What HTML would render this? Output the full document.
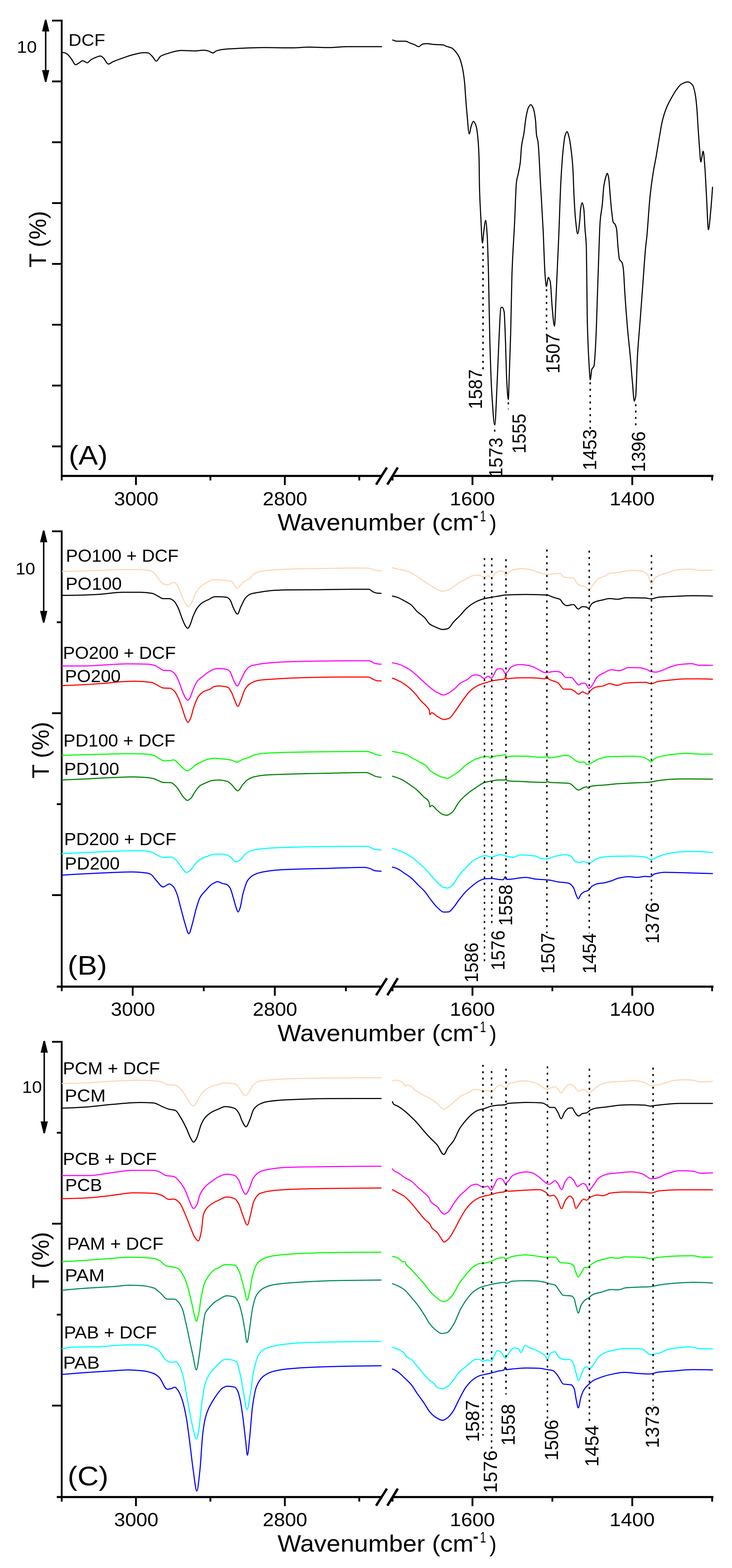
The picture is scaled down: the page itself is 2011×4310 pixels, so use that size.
<!DOCTYPE html><html><head><meta charset="utf-8"><style>html,body{margin:0;padding:0;background:#fff;}svg{display:block;}text{font-family:"Liberation Sans",Arial,sans-serif;}</style></head><body>
<svg width="2011" height="4310" viewBox="0 0 2011 4310">
<rect width="2011" height="4310" fill="#fff"/>
<rect x="167.00" y="54.10" width="5.00" height="1266.60" fill="#000"/>
<rect x="167.00" y="1305.30" width="880.00" height="5.80" fill="#000"/>
<rect x="1077.00" y="1305.30" width="883.00" height="5.80" fill="#000"/>
<line x1="1035" y1="1329.2" x2="1061.2" y2="1287.7" stroke="#000" stroke-width="6.5" stroke-linecap="square"/>
<line x1="1065.8" y1="1329.2" x2="1091.2" y2="1287.7" stroke="#000" stroke-width="6.5" stroke-linecap="square"/>
<rect x="143.00" y="54.10" width="26.50" height="5.00" fill="#000"/>
<rect x="143.00" y="221.30" width="26.50" height="5.00" fill="#000"/>
<rect x="143.00" y="388.50" width="26.50" height="5.00" fill="#000"/>
<rect x="143.00" y="555.70" width="26.50" height="5.00" fill="#000"/>
<rect x="143.00" y="722.90" width="26.50" height="5.00" fill="#000"/>
<rect x="143.00" y="890.10" width="26.50" height="5.00" fill="#000"/>
<rect x="143.00" y="1057.30" width="26.50" height="5.00" fill="#000"/>
<rect x="143.00" y="1224.50" width="26.50" height="5.00" fill="#000"/>
<rect x="371.00" y="1308.20" width="5.00" height="25.00" fill="#000"/>
<rect x="575.50" y="1308.20" width="5.00" height="12.50" fill="#000"/>
<rect x="780.00" y="1308.20" width="5.00" height="25.00" fill="#000"/>
<rect x="984.50" y="1308.20" width="5.00" height="12.50" fill="#000"/>
<rect x="1076.00" y="1308.20" width="5.00" height="12.50" fill="#000"/>
<rect x="1295.50" y="1308.20" width="5.00" height="25.00" fill="#000"/>
<rect x="1515.00" y="1308.20" width="5.00" height="12.50" fill="#000"/>
<rect x="1734.50" y="1308.20" width="5.00" height="25.00" fill="#000"/>
<rect x="1954.00" y="1308.20" width="5.00" height="12.50" fill="#000"/>
<text transform="translate(313.52,1388.50) scale(1.0516,1)" font-size="52" fill="#000">3000</text>
<text transform="translate(721.85,1388.50) scale(1.0575,1)" font-size="52" fill="#000">2800</text>
<text transform="translate(1235.87,1388.50) scale(1.0705,1)" font-size="52" fill="#000">1600</text>
<text transform="translate(1674.87,1388.50) scale(1.0705,1)" font-size="52" fill="#000">1400</text>
<text transform="translate(762.56,1458.10) scale(1.0497,1)" font-size="65.3" fill="#000">Wavenumber (cm</text>
<text transform="translate(1299.60,1435.60) scale(0.7211,1)" font-size="60" fill="#000" stroke="#000" stroke-width="1.1">-</text>
<text transform="translate(1318.76,1433.10) scale(0.6805,1)" font-size="43.3" fill="#000">1</text>
<text transform="translate(1344.65,1458.10) scale(0.9434,1)" font-size="62" fill="#000">)</text>
<text transform="translate(126.00,735.61) rotate(-90) scale(0.9841,1)" font-size="65.3" fill="#000">T (%)</text>
<line x1="125.5" y1="79.1" x2="125.5" y2="200.2" stroke="#000" stroke-width="4"/>
<polygon points="123.5,54.1 127.5,54.1 135.5,86.6 115.5,86.6" fill="#000"/>
<polygon points="123.5,225.2 127.5,225.2 135.5,192.7 115.5,192.7" fill="#000"/>
<text transform="translate(46.14,145.40) scale(1.0750,1)" font-size="46" fill="#000">10</text>
<text transform="translate(188.82,1276.80) scale(1.0709,1)" font-size="75" fill="#000">(A)</text>
<text transform="translate(188.29,125.80) scale(1.0639,1)" font-size="46" fill="#000">DCF</text>
<path d="M171.0,144.0C173.7,144.0 176.3,144.7 179.0,145.5C181.4,146.2 183.8,148.0 186.2,150.0C189.9,153.0 193.7,159.1 197.4,164.0C200.8,168.4 204.1,178.0 207.5,178.0C210.4,178.0 213.3,175.2 216.2,173.6C219.9,171.6 223.7,166.9 227.4,166.9C231.5,166.9 235.6,172.5 239.7,172.5C243.1,172.5 246.5,166.3 249.9,164.2C253.6,161.9 257.4,160.0 261.1,158.6C266.1,156.7 271.1,154.1 276.1,154.1C278.6,154.1 281.0,156.7 283.5,158.6C288.3,162.3 293.0,176.2 297.8,176.2C301.8,176.2 305.8,171.7 309.8,169.9C319.8,165.4 329.7,162.0 339.7,158.6C349.7,155.2 359.7,151.5 369.7,149.3C378.4,147.4 387.2,144.8 395.9,144.8C399.6,144.8 403.4,145.1 407.1,145.5C410.8,145.9 414.6,151.3 418.3,154.9C422.1,158.6 425.8,168.0 429.6,168.0C433.3,168.0 437.1,157.2 440.8,154.9C447.0,151.0 453.3,149.3 459.5,147.4C472.0,143.6 484.5,138.8 497.0,138.8C509.5,138.8 521.9,139.9 534.4,139.9C543.1,139.9 551.9,138.0 560.6,138.0C564.3,138.0 568.1,139.0 571.8,139.9C576.2,141.0 580.6,145.5 585.0,145.5C588.1,145.5 591.2,141.0 594.3,139.9C599.3,138.1 604.3,136.8 609.3,136.2C620.1,134.8 630.8,134.2 641.6,133.7C669.3,132.3 697.1,130.8 724.8,130.8C751.1,130.8 777.5,131.6 803.8,131.6C819.1,131.6 834.3,129.5 849.6,129.5C867.6,129.5 885.7,130.8 903.7,130.8C920.3,130.8 937.0,128.3 953.6,128.3C985.2,128.3 1016.8,128.3 1048.4,128.3" fill="none" stroke="#000" stroke-width="3.0" stroke-linejoin="round" stroke-linecap="round"/>
<path d="M1079.0,110.0C1082.7,111.5 1086.3,113.3 1090.0,113.3C1097.7,113.3 1105.5,113.3 1113.2,113.3C1117.7,113.3 1122.1,116.6 1126.6,118.3C1131.0,120.0 1135.5,121.4 1139.9,123.3C1143.2,124.7 1146.6,128.3 1149.9,128.3C1153.8,128.3 1157.6,121.6 1161.5,121.0C1165.4,120.4 1169.2,120.0 1173.1,120.0C1179.8,120.0 1186.4,121.9 1193.1,122.3C1200.9,122.8 1208.6,122.6 1216.4,123.3C1219.7,123.6 1223.1,126.1 1226.4,127.3C1231.4,129.1 1236.4,129.7 1241.4,132.2C1244.7,133.9 1248.0,137.8 1251.3,141.6C1254.6,145.5 1258.0,149.7 1261.3,156.5C1264.1,162.2 1266.9,171.1 1269.7,183.2C1271.9,192.7 1274.1,205.9 1276.3,226.4C1277.4,236.7 1278.5,258.9 1279.6,273.0C1280.7,287.6 1281.9,301.2 1283.0,313.0C1285.0,333.8 1287.0,367.9 1289.0,367.9C1290.9,367.9 1292.7,351.3 1294.6,346.2C1296.6,340.7 1298.6,333.6 1300.6,333.6C1303.0,333.6 1305.5,339.3 1307.9,346.2C1309.6,350.9 1311.2,362.7 1312.9,379.5C1314.0,390.6 1315.1,403.0 1316.2,439.4C1316.5,449.3 1316.8,494.9 1317.1,507.0C1318.3,555.5 1319.5,569.7 1320.7,592.9C1322.3,623.1 1323.8,667.9 1325.4,667.9C1326.8,667.9 1328.2,641.6 1329.6,632.0C1331.2,621.3 1332.7,605.4 1334.3,605.4C1335.7,605.4 1337.2,627.4 1338.6,650.0C1339.8,668.4 1340.9,712.9 1342.1,757.0C1343.3,802.4 1344.5,893.0 1345.7,935.7C1347.5,998.6 1349.2,1050.5 1351.0,1078.6C1353.8,1122.5 1356.5,1167.9 1359.3,1167.9C1361.3,1167.9 1363.4,1101.8 1365.4,1060.7C1367.2,1025.0 1368.9,970.4 1370.7,935.7C1372.5,901.0 1374.2,848.0 1376.0,846.4C1377.2,845.3 1378.4,844.6 1379.6,844.6C1381.4,844.6 1383.2,849.1 1385.0,857.0C1386.2,862.3 1387.4,904.7 1388.6,935.7C1389.7,965.0 1390.9,1022.2 1392.0,1042.9C1393.5,1069.8 1394.9,1098.2 1396.4,1098.2C1397.4,1098.2 1398.3,1051.3 1399.3,1025.0C1400.5,992.3 1401.7,961.3 1402.9,917.9C1404.1,875.7 1405.2,790.9 1406.4,757.0C1408.8,687.3 1411.2,664.0 1413.6,614.3C1415.4,577.7 1417.1,513.2 1418.9,500.0C1420.4,488.8 1421.9,486.8 1423.4,479.3C1425.4,469.3 1427.4,462.2 1429.4,446.0C1430.5,437.1 1431.6,411.7 1432.7,402.8C1434.9,384.7 1437.2,380.6 1439.4,366.2C1441.3,354.2 1443.1,333.1 1445.0,322.9C1447.1,311.6 1449.1,301.0 1451.2,296.8C1453.5,292.2 1455.7,287.8 1458.0,287.8C1460.2,287.8 1462.5,292.0 1464.7,296.8C1466.9,301.6 1469.2,313.3 1471.4,332.7C1472.2,339.4 1472.9,362.6 1473.7,368.7C1475.2,380.7 1476.7,380.0 1478.2,391.1C1480.5,407.9 1482.7,467.7 1485.0,507.0C1487.4,548.0 1489.7,584.4 1492.1,632.0C1493.9,668.2 1495.7,735.3 1497.5,757.0C1498.7,771.4 1499.9,787.5 1501.1,787.5C1502.9,787.5 1504.6,762.5 1506.4,762.5C1508.2,762.5 1510.0,767.9 1511.8,775.0C1513.6,782.0 1515.3,828.3 1517.1,846.4C1519.1,867.2 1521.2,896.4 1523.2,896.4C1524.8,896.4 1526.3,842.1 1527.9,810.7C1530.3,763.2 1532.6,706.8 1535.0,650.0C1537.0,601.2 1539.1,530.4 1541.1,494.5C1543.3,455.0 1545.6,424.7 1547.8,404.6C1549.3,391.1 1550.8,378.1 1552.3,373.2C1554.1,367.3 1555.9,361.9 1557.7,361.9C1559.6,361.9 1561.6,370.3 1563.5,377.7C1565.8,386.3 1568.0,403.2 1570.3,422.6C1571.5,432.8 1572.7,444.3 1573.9,463.0C1574.9,479.1 1576.0,519.9 1577.0,539.4C1578.5,567.8 1580.0,592.8 1581.5,606.8C1583.3,623.6 1585.1,642.7 1586.9,642.7C1588.8,642.7 1590.8,624.2 1592.7,606.8C1593.5,599.9 1594.2,580.3 1595.0,575.3C1596.5,565.5 1598.0,557.4 1599.5,557.4C1601.0,557.4 1602.5,565.3 1604.0,575.3C1605.1,582.4 1606.1,613.0 1607.2,629.2C1608.4,647.9 1609.7,647.7 1610.9,680.0C1611.3,691.4 1611.8,744.9 1612.2,779.4C1612.6,811.2 1613.0,860.2 1613.4,878.8C1614.2,917.5 1615.1,933.4 1615.9,953.3C1616.7,973.2 1617.6,989.9 1618.4,1003.0C1619.5,1019.8 1620.5,1044.0 1621.6,1044.0C1623.0,1044.0 1624.4,1019.2 1625.8,1015.4C1627.9,1009.8 1629.9,1011.9 1632.0,1005.5C1632.8,1002.9 1633.7,989.5 1634.5,978.0C1635.8,960.5 1637.0,934.6 1638.3,903.6C1639.1,884.0 1639.9,853.3 1640.7,829.0C1641.5,803.6 1642.4,777.8 1643.2,754.5C1645.1,701.3 1647.0,629.5 1648.9,606.8C1650.8,583.7 1652.8,580.4 1654.7,561.9C1656.1,548.8 1657.4,521.8 1658.8,512.4C1660.7,499.1 1662.7,491.6 1664.6,485.5C1665.8,481.7 1667.0,476.5 1668.2,476.5C1669.6,476.5 1670.9,482.9 1672.3,490.0C1673.5,496.1 1674.6,517.3 1675.8,530.4C1677.3,547.3 1678.8,567.0 1680.3,579.8C1681.8,592.6 1683.3,608.7 1684.8,611.3C1686.3,613.9 1687.8,613.6 1689.3,615.8C1690.8,618.0 1692.3,621.9 1693.8,629.2C1695.2,635.8 1696.5,666.0 1697.9,680.0C1699.1,692.6 1700.4,709.2 1701.6,712.3C1704.1,718.6 1706.6,716.5 1709.1,722.2C1710.3,725.0 1711.6,732.1 1712.8,742.1C1714.0,752.1 1715.3,785.7 1716.5,804.2C1719.0,841.7 1721.5,875.0 1724.0,903.6C1726.5,931.8 1728.9,951.0 1731.4,978.1C1733.5,1000.8 1735.5,1030.3 1737.6,1052.7C1739.3,1070.8 1740.9,1102.4 1742.6,1102.4C1743.8,1102.4 1745.1,1096.9 1746.3,1090.0C1748.0,1080.6 1749.6,1006.3 1751.3,978.1C1753.8,935.8 1756.3,912.1 1758.8,878.8C1761.3,845.9 1763.7,812.3 1766.2,779.4C1768.7,746.0 1771.2,705.8 1773.7,680.0C1774.8,669.0 1775.8,662.5 1776.9,651.7C1779.9,621.5 1782.9,567.5 1785.9,539.4C1788.9,511.3 1791.9,490.6 1794.9,472.0C1797.1,458.1 1799.4,448.6 1801.6,436.0C1805.4,414.8 1809.1,389.9 1812.9,368.7C1815.1,356.1 1817.4,341.9 1819.6,332.7C1823.3,317.4 1827.1,306.1 1830.8,296.8C1835.3,285.6 1839.8,278.0 1844.3,269.8C1848.8,261.6 1853.3,253.6 1857.8,247.4C1862.3,241.2 1866.8,234.3 1871.3,231.7C1877.3,228.2 1883.2,224.9 1889.2,224.9C1893.7,224.9 1898.2,228.5 1902.7,233.9C1905.0,236.6 1907.2,245.5 1909.5,256.4C1911.0,263.6 1912.5,276.5 1914.0,292.3C1915.5,307.7 1916.9,338.3 1918.4,359.7C1919.5,375.3 1920.5,391.3 1921.6,404.6C1922.8,419.6 1924.0,445.0 1925.2,445.0C1927.4,445.0 1929.7,415.8 1931.9,415.8C1933.4,415.8 1934.9,439.9 1936.4,458.5C1937.9,477.1 1939.4,513.1 1940.9,539.4C1942.7,570.9 1944.5,631.5 1946.3,631.5C1948.2,631.5 1950.2,603.6 1952.1,584.3C1953.9,566.3 1955.7,542.0 1957.5,514.7" fill="none" stroke="#000" stroke-width="3.0" stroke-linejoin="round" stroke-linecap="round"/>
<line x1="1327.00" y1="677.00" x2="1327.00" y2="1018.00" stroke="#000" stroke-width="4" stroke-dasharray="5.6 11.9"/>
<line x1="1359.00" y1="1181.00" x2="1359.00" y2="1190.00" stroke="#000" stroke-width="4" stroke-dasharray="5.6 11.9"/>
<line x1="1396.50" y1="1106.00" x2="1396.50" y2="1125.00" stroke="#000" stroke-width="4" stroke-dasharray="5.6 11.9"/>
<line x1="1501.50" y1="795.00" x2="1501.50" y2="922.00" stroke="#000" stroke-width="4" stroke-dasharray="5.6 11.9"/>
<line x1="1621.50" y1="1051.00" x2="1621.50" y2="1180.00" stroke="#000" stroke-width="4" stroke-dasharray="5.6 11.9"/>
<line x1="1746.50" y1="1111.00" x2="1746.50" y2="1180.00" stroke="#000" stroke-width="4" stroke-dasharray="5.6 11.9"/>
<text transform="translate(1324.00,1124.75) rotate(-90) scale(0.9487,1)" font-size="52" fill="#000">1587</text>
<text transform="translate(1379.60,1312.76) rotate(-90) scale(0.9506,1)" font-size="52" fill="#000">1573</text>
<text transform="translate(1444.00,1246.75) rotate(-90) scale(0.9497,1)" font-size="52" fill="#000">1555</text>
<text transform="translate(1537.00,1026.75) rotate(-90) scale(0.9478,1)" font-size="52" fill="#000">1507</text>
<text transform="translate(1638.30,1292.55) rotate(-90) scale(0.9752,1)" font-size="52" fill="#000">1453</text>
<text transform="translate(1772.40,1297.52) rotate(-90) scale(0.9661,1)" font-size="52" fill="#000">1396</text>
<rect x="167.00" y="1457.90" width="5.00" height="1266.60" fill="#000"/>
<rect x="156.00" y="2709.10" width="891.00" height="5.80" fill="#000"/>
<rect x="1077.00" y="2709.10" width="883.00" height="5.80" fill="#000"/>
<line x1="1035" y1="2733.0" x2="1061.2" y2="2691.5" stroke="#000" stroke-width="6.5" stroke-linecap="square"/>
<line x1="1065.8" y1="2733.0" x2="1091.2" y2="2691.5" stroke="#000" stroke-width="6.5" stroke-linecap="square"/>
<rect x="143.00" y="1457.90" width="26.50" height="5.00" fill="#000"/>
<rect x="156.00" y="1707.90" width="13.50" height="5.00" fill="#000"/>
<rect x="143.00" y="1957.90" width="26.50" height="5.00" fill="#000"/>
<rect x="156.00" y="2207.90" width="13.50" height="5.00" fill="#000"/>
<rect x="143.00" y="2457.90" width="26.50" height="5.00" fill="#000"/>
<rect x="362.00" y="2712.00" width="5.00" height="25.00" fill="#000"/>
<rect x="557.25" y="2712.00" width="5.00" height="12.50" fill="#000"/>
<rect x="752.50" y="2712.00" width="5.00" height="25.00" fill="#000"/>
<rect x="947.75" y="2712.00" width="5.00" height="12.50" fill="#000"/>
<rect x="1076.00" y="2712.00" width="5.00" height="12.50" fill="#000"/>
<rect x="1295.50" y="2712.00" width="5.00" height="25.00" fill="#000"/>
<rect x="1515.00" y="2712.00" width="5.00" height="12.50" fill="#000"/>
<rect x="1734.50" y="2712.00" width="5.00" height="25.00" fill="#000"/>
<rect x="1954.00" y="2712.00" width="5.00" height="12.50" fill="#000"/>
<text transform="translate(304.52,2792.30) scale(1.0516,1)" font-size="52" fill="#000">3000</text>
<text transform="translate(694.35,2792.30) scale(1.0575,1)" font-size="52" fill="#000">2800</text>
<text transform="translate(1235.87,2792.30) scale(1.0705,1)" font-size="52" fill="#000">1600</text>
<text transform="translate(1674.87,2792.30) scale(1.0705,1)" font-size="52" fill="#000">1400</text>
<text transform="translate(762.56,2861.90) scale(1.0497,1)" font-size="65.3" fill="#000">Wavenumber (cm</text>
<text transform="translate(1299.60,2839.40) scale(0.7211,1)" font-size="60" fill="#000" stroke="#000" stroke-width="1.1">-</text>
<text transform="translate(1318.76,2836.90) scale(0.6805,1)" font-size="43.3" fill="#000">1</text>
<text transform="translate(1344.65,2861.90) scale(0.9434,1)" font-size="62" fill="#000">)</text>
<text transform="translate(134.00,2139.91) rotate(-90) scale(0.9841,1)" font-size="65.3" fill="#000">T (%)</text>
<line x1="120" y1="1482.9" x2="120" y2="1686.8000000000002" stroke="#000" stroke-width="4"/>
<polygon points="118,1457.9 122,1457.9 130,1490.4 110,1490.4" fill="#000"/>
<polygon points="118,1711.8000000000002 122,1711.8000000000002 130,1679.3000000000002 110,1679.3000000000002" fill="#000"/>
<text transform="translate(42.93,1579.00) scale(1.0510,1)" font-size="46" fill="#000">10</text>
<text transform="translate(185.66,2678.50) scale(1.0841,1)" font-size="75" fill="#000">(B)</text>
<text transform="translate(180.98,1544.00) scale(1.0332,1)" font-size="47.5" fill="#000">PO100 + DCF</text>
<text transform="translate(180.23,1620.60) scale(1.0449,1)" font-size="47.5" fill="#000">PO100</text>
<text transform="translate(172.97,1810.90) scale(1.0349,1)" font-size="47.5" fill="#000">PO200 + DCF</text>
<text transform="translate(178.57,1875.40) scale(1.0350,1)" font-size="47.5" fill="#000">PO200</text>
<text transform="translate(174.37,2052.30) scale(1.0346,1)" font-size="47.5" fill="#000">PD100 + DCF</text>
<text transform="translate(176.35,2130.10) scale(1.0404,1)" font-size="47.5" fill="#000">PD100</text>
<text transform="translate(176.36,2322.80) scale(1.0374,1)" font-size="47.5" fill="#000">PD200 + DCF</text>
<text transform="translate(178.06,2390.10) scale(1.0383,1)" font-size="47.5" fill="#000">PD200</text>
<path d="M171.2,1570.7C192.4,1570.3 213.7,1569.8 234.9,1569.2C247.4,1568.9 259.8,1568.5 272.3,1568.1C291.0,1567.4 309.8,1565.5 328.5,1565.5C347.2,1565.5 365.9,1565.5 384.6,1565.5C394.6,1565.5 404.6,1566.8 414.6,1569.2C418.3,1570.1 422.1,1573.9 425.8,1577.4C429.5,1580.9 433.3,1588.0 437.0,1592.4C440.8,1596.9 444.5,1602.7 448.3,1604.4C452.7,1606.4 457.0,1608.1 461.4,1608.1C464.5,1608.1 467.6,1603.9 470.7,1602.9C473.5,1602.0 476.2,1601.0 479.0,1601.0C481.9,1601.0 484.7,1605.4 487.6,1609.3C490.7,1613.6 493.9,1624.6 497.0,1631.7C500.7,1640.2 504.5,1650.4 508.2,1656.1C511.3,1660.9 514.4,1667.3 517.5,1667.3C520.6,1667.3 523.8,1661.2 526.9,1656.1C529.4,1652.0 531.9,1642.4 534.4,1637.3C538.1,1629.7 541.9,1622.8 545.6,1618.6C551.8,1611.6 558.1,1607.4 564.3,1603.6C570.6,1599.8 576.8,1594.8 583.1,1594.3C588.7,1593.8 594.4,1593.5 600.0,1593.5C606.2,1593.5 612.5,1594.6 618.7,1595.4C624.3,1596.1 630.0,1596.3 635.6,1598.0C638.1,1598.8 640.6,1604.5 643.1,1607.4C646.0,1610.7 648.8,1616.7 651.7,1616.7C654.4,1616.7 657.2,1611.9 659.9,1609.3C663.6,1605.8 667.4,1600.5 671.1,1598.0C676.1,1594.6 681.1,1594.1 686.1,1590.5C689.8,1587.8 693.6,1579.6 697.3,1577.4C702.3,1574.5 707.3,1573.0 712.3,1571.8C718.5,1570.3 724.8,1569.2 731.0,1568.5C743.5,1567.1 756.0,1566.1 768.5,1565.5C787.2,1564.6 805.9,1564.0 824.6,1563.6C849.6,1563.1 874.5,1562.9 899.5,1562.5C924.5,1562.1 949.4,1561.3 974.4,1561.3C986.9,1561.3 999.3,1561.4 1011.8,1561.7C1015.6,1561.8 1019.3,1564.0 1023.1,1565.1C1026.8,1566.2 1030.6,1567.4 1034.3,1568.1C1038.5,1568.9 1042.8,1569.6 1047.0,1570.0" fill="none" stroke="#FDD6B8" stroke-width="3.0" stroke-linejoin="round" stroke-linecap="round"/>
<path d="M171.2,1636.6C192.4,1636.6 213.7,1636.1 234.9,1635.5C247.4,1635.2 259.8,1634.4 272.3,1633.6C293.5,1632.3 314.8,1628.0 336.0,1628.0C352.2,1628.0 368.4,1628.0 384.6,1628.0C395.8,1628.0 407.1,1629.2 418.3,1631.0C423.3,1631.8 428.3,1635.7 433.3,1638.1C438.3,1640.5 443.3,1645.6 448.3,1645.6C453.9,1645.6 459.5,1645.6 465.1,1645.6C469.5,1645.6 473.8,1648.8 478.2,1652.3C482.0,1655.3 485.7,1663.3 489.5,1671.0C493.2,1678.6 497.0,1692.0 500.7,1701.0C503.8,1708.5 507.0,1717.4 510.1,1721.6C512.0,1724.1 513.8,1727.2 515.7,1727.2C517.6,1727.2 519.4,1723.0 521.3,1719.7C524.4,1714.2 527.6,1700.9 530.7,1693.5C534.4,1684.7 538.2,1676.0 541.9,1671.0C546.9,1664.2 551.9,1659.4 556.9,1656.1C561.9,1652.8 566.8,1650.9 571.8,1648.6C578.1,1645.6 584.3,1640.3 590.6,1640.3C593.7,1640.3 596.9,1640.3 600.0,1640.3C607.5,1640.3 615.0,1640.8 622.5,1641.8C625.6,1642.2 628.7,1645.1 631.8,1648.6C634.9,1652.1 638.1,1665.2 641.2,1671.0C644.9,1677.9 648.7,1687.9 652.4,1687.9C655.5,1687.9 658.7,1673.6 661.8,1667.3C666.2,1658.5 670.5,1647.8 674.9,1643.0C679.3,1638.2 683.6,1634.3 688.0,1632.8C696.1,1630.1 704.2,1629.3 712.3,1628.0C724.8,1626.0 737.3,1623.9 749.8,1623.1C762.3,1622.3 774.7,1621.8 787.2,1621.6C812.2,1621.2 837.1,1621.1 862.1,1620.9C899.5,1620.5 937.0,1619.7 974.4,1619.7C987.5,1619.7 1000.6,1619.7 1013.7,1619.7C1017.4,1619.7 1021.2,1625.4 1024.9,1626.9C1029.3,1628.6 1033.6,1630.3 1038.0,1630.6C1041.0,1630.8 1044.0,1631.0 1047.0,1631.0" fill="none" stroke="#000000" stroke-width="3.0" stroke-linejoin="round" stroke-linecap="round"/>
<path d="M170.5,1830.4C192.0,1830.4 213.4,1830.4 234.9,1830.4C253.6,1830.4 272.3,1828.3 291.0,1827.4C309.7,1826.5 328.5,1824.8 347.2,1824.8C365.9,1824.8 384.7,1825.0 403.4,1825.6C409.6,1825.8 415.9,1826.8 422.1,1828.2C427.1,1829.3 432.0,1833.0 437.0,1835.7C440.8,1837.8 444.5,1842.1 448.3,1842.4C454.5,1842.9 460.8,1842.7 467.0,1843.2C470.7,1843.5 474.5,1846.6 478.2,1849.9C482.0,1853.2 485.7,1860.9 489.5,1868.6C493.2,1876.2 497.0,1889.6 500.7,1898.6C503.8,1906.1 507.0,1915.0 510.1,1919.2C512.0,1921.7 513.8,1924.8 515.7,1924.8C517.6,1924.8 519.4,1921.8 521.3,1919.2C524.4,1914.8 527.6,1901.9 530.7,1894.8C534.4,1886.3 538.2,1877.0 541.9,1872.4C546.9,1866.2 551.9,1863.4 556.9,1859.3C561.9,1855.3 566.8,1851.0 571.8,1848.0C578.1,1844.2 584.3,1839.9 590.6,1838.7C593.7,1838.1 596.9,1837.5 600.0,1837.5C607.5,1837.5 615.0,1838.3 622.5,1839.8C625.6,1840.4 628.7,1842.9 631.8,1846.2C634.9,1849.5 638.1,1862.6 641.2,1868.6C644.7,1875.3 648.2,1885.5 651.7,1885.5C655.1,1885.5 658.4,1874.7 661.8,1868.6C665.5,1861.8 669.3,1851.5 673.0,1846.2C677.4,1840.0 681.7,1833.9 686.1,1831.9C692.3,1829.0 698.6,1827.9 704.8,1826.7C713.5,1825.0 722.3,1823.7 731.0,1822.9C749.7,1821.1 768.5,1819.9 787.2,1819.2C812.2,1818.3 837.1,1817.7 862.1,1817.3C899.5,1816.8 937.0,1816.2 974.4,1816.2C987.5,1816.2 1000.6,1816.2 1013.7,1816.2C1019.3,1816.2 1024.9,1822.7 1030.5,1823.7C1036.0,1824.7 1041.5,1825.6 1047.0,1825.6" fill="none" stroke="#FF00FF" stroke-width="3.0" stroke-linejoin="round" stroke-linecap="round"/>
<path d="M170.5,1884.7C192.0,1883.9 213.4,1882.9 234.9,1881.7C253.6,1880.7 272.3,1879.5 291.0,1878.0C303.5,1877.0 316.0,1875.0 328.5,1874.2C342.2,1873.4 356.0,1872.4 369.7,1872.4C384.7,1872.4 399.6,1873.4 414.6,1875.4C419.6,1876.1 424.6,1879.4 429.6,1881.7C435.8,1884.5 442.1,1890.7 448.3,1891.1C454.5,1891.5 460.8,1891.3 467.0,1891.8C470.7,1892.1 474.5,1895.3 478.2,1898.6C482.0,1901.9 485.7,1909.6 489.5,1917.3C493.2,1924.9 497.0,1936.7 500.7,1947.2C503.8,1956.1 507.0,1968.9 510.1,1975.3C512.2,1979.6 514.3,1985.4 516.4,1985.4C518.7,1985.4 520.9,1979.9 523.2,1975.3C526.3,1969.0 529.4,1952.1 532.5,1943.5C536.9,1931.4 541.2,1919.1 545.6,1913.5C550.6,1907.1 555.6,1903.0 560.6,1900.4C565.6,1897.8 570.6,1897.0 575.6,1894.8C580.6,1892.6 585.6,1887.5 590.6,1886.6C593.7,1886.0 596.9,1885.5 600.0,1885.5C608.7,1885.5 617.5,1886.6 626.2,1889.2C629.3,1890.1 632.5,1896.8 635.6,1902.3C638.7,1907.8 641.8,1918.1 644.9,1924.8C647.8,1931.0 650.6,1941.6 653.5,1941.6C656.3,1941.6 659.0,1931.1 661.8,1924.8C665.5,1916.3 669.3,1900.8 673.0,1894.8C677.4,1887.8 681.7,1882.6 686.1,1879.9C694.8,1874.5 703.6,1870.9 712.3,1869.7C724.8,1868.0 737.3,1867.5 749.8,1866.7C774.7,1865.1 799.7,1863.6 824.6,1863.0C862.1,1862.0 899.5,1861.1 937.0,1861.1C961.9,1861.1 986.9,1861.1 1011.8,1861.1C1016.8,1861.1 1021.8,1866.0 1026.8,1867.9C1030.5,1869.3 1034.3,1871.6 1038.0,1871.6C1041.0,1871.6 1044.0,1871.6 1047.0,1871.6" fill="none" stroke="#FF0000" stroke-width="3.0" stroke-linejoin="round" stroke-linecap="round"/>
<path d="M170.5,2076.3C192.0,2075.6 213.4,2075.0 234.9,2074.4C253.6,2073.9 272.3,2073.3 291.0,2072.9C309.7,2072.5 328.5,2071.8 347.2,2071.8C365.9,2071.8 384.7,2072.1 403.4,2072.9C409.6,2073.2 415.9,2074.5 422.1,2076.3C427.1,2077.7 432.0,2082.3 437.0,2084.9C441.4,2087.2 445.8,2091.3 450.2,2091.3C455.8,2091.3 461.4,2090.9 467.0,2090.5C470.5,2090.2 474.0,2088.7 477.5,2088.7C481.5,2088.7 485.5,2094.5 489.5,2098.0C493.2,2101.3 497.0,2106.2 500.7,2109.3C505.1,2113.0 509.4,2118.6 513.8,2118.6C517.5,2118.6 521.3,2115.3 525.0,2113.0C529.4,2110.3 533.7,2104.6 538.1,2101.8C543.1,2098.6 548.1,2096.5 553.1,2094.3C559.3,2091.5 565.6,2088.1 571.8,2086.8C578.1,2085.5 584.3,2084.2 590.6,2084.2C593.7,2084.2 596.9,2084.6 600.0,2084.9C606.2,2085.4 612.5,2086.0 618.7,2086.8C624.3,2087.5 630.0,2088.2 635.6,2089.4C640.6,2090.5 645.5,2095.0 650.5,2095.0C655.5,2095.0 660.5,2089.9 665.5,2087.9C671.1,2085.7 676.8,2084.5 682.4,2082.3C687.4,2080.4 692.3,2077.0 697.3,2075.6C706.0,2073.2 714.8,2071.3 723.5,2070.7C744.7,2069.1 766.0,2068.6 787.2,2068.1C824.6,2067.2 862.1,2066.5 899.5,2066.2C935.7,2065.9 971.9,2065.5 1008.1,2065.5C1013.1,2065.5 1018.1,2068.3 1023.1,2070.0C1026.8,2071.3 1030.6,2073.6 1034.3,2074.4C1038.5,2075.3 1042.8,2076.2 1047.0,2076.3" fill="none" stroke="#00FF00" stroke-width="3.0" stroke-linejoin="round" stroke-linecap="round"/>
<path d="M170.5,2144.1C192.0,2143.1 213.4,2142.1 234.9,2141.1C259.9,2139.9 284.8,2138.3 309.8,2137.3C328.5,2136.6 347.2,2135.5 365.9,2135.5C378.4,2135.5 390.9,2136.3 403.4,2137.3C409.6,2137.8 415.9,2138.8 422.1,2140.3C427.1,2141.5 432.0,2144.8 437.0,2146.7C440.8,2148.2 444.5,2150.6 448.3,2150.8C455.2,2151.1 462.0,2150.9 468.9,2151.2C473.3,2151.4 477.6,2155.9 482.0,2159.8C485.7,2163.1 489.5,2169.5 493.2,2174.8C496.9,2180.1 500.7,2187.7 504.4,2191.6C507.9,2195.3 511.4,2200.2 514.9,2200.2C518.3,2200.2 521.6,2196.7 525.0,2193.5C528.1,2190.5 531.3,2182.9 534.4,2178.5C539.4,2171.4 544.4,2163.4 549.4,2159.8C554.4,2156.2 559.3,2154.4 564.3,2152.3C570.6,2149.7 576.8,2146.5 583.1,2145.6C588.7,2144.8 594.4,2144.1 600.0,2144.1C608.7,2144.1 617.5,2145.9 626.2,2148.6C629.9,2149.8 633.7,2154.5 637.4,2157.9C642.7,2162.7 647.9,2173.7 653.2,2173.7C657.9,2173.7 662.7,2161.3 667.4,2156.1C671.8,2151.3 676.1,2145.7 680.5,2143.0C686.1,2139.5 691.7,2136.9 697.3,2135.5C706.0,2133.3 714.8,2131.7 723.5,2131.0C744.7,2129.3 766.0,2128.7 787.2,2128.0C824.6,2126.8 862.1,2126.2 899.5,2125.4C935.1,2124.7 970.6,2123.5 1006.2,2123.5C1010.6,2123.5 1014.9,2126.2 1019.3,2128.0C1023.0,2129.5 1026.8,2132.6 1030.5,2133.6C1036.0,2135.1 1041.5,2136.6 1047.0,2136.6" fill="none" stroke="#008000" stroke-width="3.0" stroke-linejoin="round" stroke-linecap="round"/>
<path d="M170.5,2346.6C192.0,2345.6 213.4,2344.6 234.9,2343.6C259.9,2342.4 284.8,2340.7 309.8,2339.9C334.7,2339.1 359.7,2338.0 384.6,2338.0C394.6,2338.0 404.6,2339.6 414.6,2341.8C419.6,2342.9 424.6,2347.1 429.6,2349.3C435.8,2352.1 442.1,2356.8 448.3,2356.8C455.8,2356.8 463.2,2356.0 470.7,2356.0C474.5,2356.0 478.2,2359.5 482.0,2362.4C487.0,2366.2 492.0,2375.2 497.0,2381.1C502.0,2387.0 506.9,2397.9 511.9,2397.9C515.7,2397.9 519.4,2395.0 523.2,2392.3C526.9,2389.6 530.7,2381.6 534.4,2377.3C539.4,2371.6 544.4,2365.4 549.4,2362.4C556.9,2357.9 564.3,2355.4 571.8,2353.0C578.1,2351.0 584.3,2348.7 590.6,2348.1C593.7,2347.8 596.9,2347.5 600.0,2347.5C607.5,2347.5 615.0,2348.4 622.5,2349.8C626.2,2350.5 630.0,2353.6 633.7,2356.2C638.7,2359.6 643.7,2369.3 648.7,2369.3C652.4,2369.3 656.2,2366.2 659.9,2363.6C664.9,2360.2 669.9,2350.3 674.9,2346.8C681.1,2342.4 687.4,2339.0 693.6,2337.4C702.3,2335.1 711.1,2333.7 719.8,2332.9C742.3,2330.9 764.7,2329.9 787.2,2329.2C824.6,2328.1 862.1,2327.4 899.5,2327.0C935.7,2326.6 971.9,2326.2 1008.1,2326.2C1014.3,2326.2 1020.6,2332.3 1026.8,2333.7C1033.5,2335.2 1040.3,2336.6 1047.0,2336.7" fill="none" stroke="#00FFFF" stroke-width="3.0" stroke-linejoin="round" stroke-linecap="round"/>
<path d="M170.5,2405.4C192.0,2404.0 213.4,2402.8 234.9,2401.7C259.9,2400.4 284.8,2399.2 309.8,2398.3C327.3,2397.7 344.7,2396.8 362.2,2396.8C375.9,2396.8 389.7,2397.9 403.4,2399.8C407.1,2400.3 410.9,2401.6 414.6,2403.5C419.6,2406.0 424.6,2415.3 429.6,2420.4C435.8,2426.8 442.1,2438.0 448.3,2438.0C453.9,2438.0 459.5,2429.8 465.1,2429.8C468.9,2429.8 472.6,2433.4 476.4,2437.2C479.5,2440.3 482.6,2448.0 485.7,2456.0C489.5,2465.7 493.2,2483.3 497.0,2497.1C500.7,2510.8 504.5,2526.8 508.2,2538.3C511.7,2549.1 515.2,2566.4 518.7,2566.4C522.1,2566.4 525.4,2549.4 528.8,2538.3C531.9,2528.1 535.0,2511.6 538.1,2500.9C541.9,2487.9 545.6,2474.0 549.4,2467.2C554.4,2458.3 559.3,2454.0 564.3,2448.5C570.6,2441.5 576.8,2433.5 583.1,2429.8C588.1,2426.9 593.0,2423.4 598.0,2423.4C602.4,2423.4 606.8,2427.1 611.2,2428.4C615.0,2429.5 618.7,2429.6 622.5,2431.0C625.6,2432.2 628.7,2435.7 631.8,2440.4C634.9,2445.1 638.1,2458.4 641.2,2468.5C643.7,2476.6 646.2,2488.1 648.7,2494.7C650.6,2499.6 652.4,2506.7 654.3,2506.7C656.2,2506.7 658.0,2500.2 659.9,2494.7C662.4,2487.3 664.9,2466.5 667.4,2457.2C671.8,2440.9 676.1,2425.9 680.5,2419.8C686.1,2412.0 691.7,2407.5 697.3,2404.8C706.0,2400.6 714.8,2398.2 723.5,2396.6C738.5,2393.8 753.5,2391.9 768.5,2391.0C787.2,2389.8 805.9,2389.3 824.6,2388.7C849.6,2387.9 874.5,2387.5 899.5,2386.9C933.2,2386.0 966.9,2384.2 1000.6,2384.2C1005.6,2384.2 1010.6,2385.6 1015.6,2386.9C1020.6,2388.2 1025.5,2393.0 1030.5,2393.6C1036.0,2394.2 1041.5,2394.7 1047.0,2394.7" fill="none" stroke="#0000FF" stroke-width="3.0" stroke-linejoin="round" stroke-linecap="round"/>
<path d="M1078.2,1560.0C1083.0,1561.7 1087.7,1563.3 1092.5,1564.4C1100.0,1566.2 1107.4,1566.6 1114.9,1568.6C1121.1,1570.3 1127.4,1573.5 1133.6,1576.8C1141.1,1580.7 1148.6,1586.9 1156.1,1591.8C1164.8,1597.5 1173.6,1603.2 1182.3,1608.6C1188.5,1612.5 1194.8,1617.0 1201.0,1619.9C1206.0,1622.2 1211.0,1625.5 1216.0,1625.5C1221.0,1625.5 1226.0,1623.5 1231.0,1621.7C1236.0,1619.9 1241.0,1615.7 1246.0,1612.4C1252.2,1608.3 1258.5,1602.9 1264.7,1599.3C1270.9,1595.7 1277.2,1592.8 1283.4,1589.9C1289.6,1587.0 1295.9,1582.0 1302.1,1581.7C1307.1,1581.5 1312.1,1581.3 1317.1,1581.3C1321.5,1581.3 1325.8,1586.9 1330.2,1586.9C1333.6,1586.9 1336.9,1582.4 1340.3,1582.4C1343.4,1582.4 1346.6,1588.0 1349.7,1588.0C1353.2,1588.0 1356.7,1579.4 1360.2,1576.8C1364.6,1573.5 1368.9,1569.3 1373.3,1569.3C1377.0,1569.3 1380.8,1569.8 1384.5,1571.2C1386.0,1571.8 1387.5,1584.3 1389.0,1584.3C1391.2,1584.3 1393.5,1576.8 1395.7,1574.9C1400.7,1570.6 1405.7,1567.6 1410.7,1566.3C1417.6,1564.5 1424.4,1562.9 1431.3,1562.9C1435.7,1562.9 1440.0,1563.3 1444.4,1563.7C1450.6,1564.3 1456.9,1565.8 1463.1,1567.4C1469.3,1569.0 1475.6,1572.4 1481.8,1574.2C1488.0,1576.0 1494.3,1578.7 1500.5,1578.7C1503.7,1578.7 1506.8,1578.1 1510.0,1577.9C1518.7,1577.2 1527.5,1576.0 1536.2,1576.0C1541.2,1576.0 1546.2,1586.2 1551.2,1586.9C1559.3,1588.1 1567.4,1587.4 1575.5,1588.7C1578.6,1589.2 1581.8,1599.9 1584.9,1603.0C1588.0,1606.0 1591.1,1608.7 1594.2,1609.7C1598.6,1611.1 1602.9,1610.9 1607.3,1612.3C1610.8,1613.4 1614.3,1620.9 1617.8,1620.9C1621.8,1620.9 1625.8,1611.3 1629.8,1606.7C1634.8,1600.9 1639.8,1592.7 1644.8,1589.9C1649.8,1587.1 1654.8,1586.3 1659.8,1584.2C1666.0,1581.5 1672.3,1575.4 1678.5,1574.9C1684.7,1574.4 1691.0,1574.5 1697.2,1574.1C1703.4,1573.7 1709.7,1570.9 1715.9,1570.0C1722.1,1569.1 1728.4,1568.1 1734.6,1568.1C1744.6,1568.1 1754.6,1568.7 1764.6,1570.0C1769.6,1570.6 1774.6,1574.8 1779.6,1580.5C1783.0,1584.3 1786.3,1606.0 1789.7,1606.0C1792.6,1606.0 1795.4,1592.7 1798.3,1589.9C1803.3,1585.0 1808.3,1582.6 1813.3,1580.5C1819.5,1577.9 1825.8,1576.9 1832.0,1574.9C1839.5,1572.5 1846.9,1568.6 1854.4,1567.4C1864.4,1565.8 1874.4,1564.4 1884.4,1564.4C1890.6,1564.4 1896.9,1564.4 1903.1,1564.4C1909.3,1564.4 1915.6,1567.4 1921.8,1567.4C1933.7,1567.4 1945.5,1567.4 1957.4,1567.4" fill="none" stroke="#FDD6B8" stroke-width="3.0" stroke-linejoin="round" stroke-linecap="round"/>
<path d="M1078.2,1638.6C1083.0,1639.3 1087.7,1640.7 1092.5,1642.3C1098.7,1644.4 1105.0,1648.3 1111.2,1651.7C1117.4,1655.1 1123.7,1658.0 1129.9,1662.9C1134.9,1666.9 1139.9,1675.0 1144.9,1679.8C1152.4,1687.0 1159.8,1690.8 1167.3,1698.5C1171.7,1703.0 1176.0,1712.1 1180.4,1715.3C1186.0,1719.5 1191.7,1721.6 1197.3,1723.9C1203.5,1726.5 1209.8,1730.3 1216.0,1730.3C1221.0,1730.3 1226.0,1729.2 1231.0,1727.7C1236.0,1726.2 1241.0,1715.2 1246.0,1709.7C1252.2,1702.9 1258.5,1697.6 1264.7,1691.0C1269.7,1685.7 1274.7,1678.8 1279.7,1674.1C1285.9,1668.2 1292.2,1663.0 1298.4,1659.2C1304.6,1655.4 1310.9,1652.1 1317.1,1649.8C1322.1,1647.9 1327.1,1646.5 1332.1,1645.3C1338.3,1643.8 1344.6,1642.7 1350.8,1641.6C1357.0,1640.5 1363.3,1639.6 1369.5,1638.6C1375.7,1637.6 1382.0,1636.0 1388.2,1635.6C1394.5,1635.2 1400.7,1635.0 1407.0,1634.8C1419.5,1634.5 1431.9,1634.1 1444.4,1634.1C1456.9,1634.1 1469.3,1634.5 1481.8,1634.8C1489.3,1635.0 1496.8,1635.0 1504.3,1635.6C1506.2,1635.7 1508.1,1637.1 1510.0,1637.8C1515.0,1639.7 1520.0,1641.8 1525.0,1643.4C1529.4,1644.8 1533.7,1645.0 1538.1,1647.1C1541.2,1648.6 1544.3,1656.6 1547.4,1659.1C1550.5,1661.7 1553.7,1664.7 1556.8,1664.7C1563.0,1664.7 1569.3,1661.7 1575.5,1661.7C1579.9,1661.7 1584.2,1674.1 1588.6,1674.1C1592.4,1674.1 1596.1,1667.4 1599.9,1667.4C1603.6,1667.4 1607.4,1667.8 1611.1,1668.5C1613.0,1668.8 1614.8,1672.2 1616.7,1672.2C1619.8,1672.2 1623.0,1661.4 1626.1,1659.1C1629.8,1656.3 1633.6,1654.7 1637.3,1653.5C1643.5,1651.4 1649.8,1650.4 1656.0,1649.0C1662.2,1647.6 1668.5,1645.3 1674.7,1645.3C1682.2,1645.3 1689.7,1647.1 1697.2,1647.1C1704.7,1647.1 1712.2,1643.0 1719.7,1643.0C1737.2,1643.0 1754.6,1643.2 1772.1,1643.8C1777.7,1644.0 1783.3,1646.0 1788.9,1646.0C1795.8,1646.0 1802.6,1642.1 1809.5,1641.5C1822.0,1640.4 1834.4,1640.2 1846.9,1639.6C1865.6,1638.8 1884.4,1637.4 1903.1,1637.4C1921.2,1637.4 1939.3,1637.6 1957.4,1638.5" fill="none" stroke="#000000" stroke-width="3.0" stroke-linejoin="round" stroke-linecap="round"/>
<path d="M1078.2,1821.9C1083.0,1822.5 1087.7,1823.6 1092.5,1824.9C1098.7,1826.6 1105.0,1829.4 1111.2,1832.4C1117.4,1835.4 1123.7,1839.1 1129.9,1843.6C1134.9,1847.2 1139.9,1852.3 1144.9,1856.7C1151.1,1862.2 1157.4,1868.0 1163.6,1873.6C1169.8,1879.2 1176.1,1885.5 1182.3,1890.4C1188.5,1895.3 1194.8,1900.4 1201.0,1903.5C1207.0,1906.4 1213.0,1910.3 1219.0,1910.3C1224.2,1910.3 1229.5,1906.4 1234.7,1903.5C1239.7,1900.8 1244.7,1896.5 1249.7,1892.3C1254.7,1888.1 1259.7,1881.6 1264.7,1878.1C1270.9,1873.8 1277.2,1871.9 1283.4,1868.0C1288.4,1864.8 1293.4,1858.4 1298.4,1856.7C1300.9,1855.8 1303.4,1854.9 1305.9,1854.9C1310.3,1854.9 1314.6,1856.1 1319.0,1857.5C1322.7,1858.7 1326.5,1865.4 1330.2,1865.4C1333.9,1865.4 1337.7,1858.6 1341.4,1858.6C1344.3,1858.6 1347.1,1864.2 1350.0,1864.2C1352.8,1864.2 1355.5,1855.5 1358.3,1851.1C1360.8,1847.1 1363.3,1839.8 1365.8,1839.2C1368.9,1838.4 1372.0,1838.0 1375.1,1838.0C1377.6,1838.0 1380.1,1839.7 1382.6,1841.8C1384.2,1843.2 1385.9,1851.1 1387.5,1851.1C1389.6,1851.1 1391.7,1849.1 1393.8,1847.4C1396.9,1844.9 1400.1,1836.1 1403.2,1834.3C1410.7,1829.9 1418.2,1826.8 1425.7,1826.8C1431.9,1826.8 1438.2,1827.3 1444.4,1827.9C1450.6,1828.5 1456.9,1830.4 1463.1,1832.4C1469.3,1834.4 1475.6,1838.9 1481.8,1841.8C1486.8,1844.2 1491.8,1848.5 1496.8,1848.5C1501.2,1848.5 1505.6,1847.8 1510.0,1847.4C1516.2,1846.8 1522.5,1845.5 1528.7,1845.5C1532.5,1845.5 1536.2,1846.7 1540.0,1848.1C1545.0,1849.9 1549.9,1862.4 1554.9,1862.4C1559.9,1862.4 1564.9,1862.4 1569.9,1862.4C1573.0,1862.4 1576.2,1868.5 1579.3,1871.7C1582.8,1875.3 1586.2,1883.0 1589.7,1883.0C1592.5,1883.0 1595.2,1878.1 1598.0,1878.1C1601.1,1878.1 1604.2,1878.1 1607.3,1878.1C1610.8,1878.1 1614.3,1892.3 1617.8,1892.3C1620.6,1892.3 1623.3,1887.9 1626.1,1884.8C1631.1,1879.2 1636.0,1864.9 1641.0,1860.5C1647.3,1854.9 1653.5,1852.5 1659.8,1849.3C1666.0,1846.1 1672.3,1841.0 1678.5,1841.0C1686.0,1841.0 1693.4,1843.6 1700.9,1843.6C1709.6,1843.6 1718.4,1835.0 1727.1,1835.0C1737.1,1835.0 1747.1,1835.1 1757.1,1835.4C1763.3,1835.6 1769.6,1837.8 1775.8,1839.9C1779.5,1841.1 1783.3,1844.7 1787.0,1845.5C1792.0,1846.5 1797.0,1847.4 1802.0,1847.4C1807.0,1847.4 1812.0,1845.2 1817.0,1843.6C1823.2,1841.6 1829.5,1837.6 1835.7,1835.4C1845.7,1831.9 1855.7,1828.0 1865.7,1826.8C1876.9,1825.4 1888.2,1824.2 1899.4,1824.2C1906.9,1824.2 1914.3,1828.7 1921.8,1828.7C1933.7,1828.7 1945.5,1828.7 1957.4,1828.7" fill="none" stroke="#FF00FF" stroke-width="3.0" stroke-linejoin="round" stroke-linecap="round"/>
<path d="M1078.2,1864.2C1083.0,1865.7 1087.7,1867.7 1092.5,1869.9C1097.5,1872.2 1102.4,1875.0 1107.4,1878.1C1113.7,1882.1 1119.9,1886.9 1126.2,1892.3C1131.2,1896.6 1136.1,1901.8 1141.1,1907.3C1146.1,1912.9 1151.1,1920.5 1156.1,1926.0C1161.1,1931.5 1166.1,1935.1 1171.1,1941.0C1173.8,1944.2 1176.6,1944.6 1179.3,1952.2C1179.8,1953.6 1180.3,1964.2 1180.8,1964.2C1182.6,1964.2 1184.3,1959.0 1186.1,1959.0C1191.1,1959.0 1196.0,1966.4 1201.0,1969.1C1207.3,1972.5 1213.5,1977.7 1219.8,1977.7C1224.8,1977.7 1229.7,1976.0 1234.7,1973.9C1239.7,1971.8 1244.7,1962.5 1249.7,1956.0C1254.1,1950.3 1258.4,1943.4 1262.8,1937.2C1267.2,1931.0 1271.5,1924.3 1275.9,1918.5C1280.9,1911.8 1285.9,1904.4 1290.9,1899.8C1298.4,1893.0 1305.9,1887.7 1313.4,1884.1C1319.6,1881.1 1325.9,1879.3 1332.1,1877.3C1339.6,1874.9 1347.0,1872.5 1354.5,1871.0C1359.5,1870.0 1364.5,1869.5 1369.5,1868.7C1375.1,1867.8 1380.8,1868.2 1386.4,1866.1C1387.3,1865.8 1388.1,1856.7 1389.0,1856.7C1389.7,1856.7 1390.5,1866.1 1391.2,1866.1C1396.5,1866.1 1401.7,1864.5 1407.0,1864.2C1419.5,1863.6 1431.9,1863.1 1444.4,1863.1C1456.9,1863.1 1469.3,1863.5 1481.8,1864.2C1486.8,1864.5 1491.8,1866.1 1496.8,1866.1C1498.7,1866.1 1500.5,1857.9 1502.4,1857.9C1503.7,1857.9 1504.9,1864.1 1506.2,1865.4C1507.5,1866.7 1508.7,1867.3 1510.0,1868.0C1517.5,1871.9 1525.0,1872.3 1532.5,1876.6C1538.1,1879.8 1543.7,1894.2 1549.3,1894.2C1554.9,1894.2 1560.6,1894.2 1566.2,1894.2C1569.9,1894.2 1573.7,1897.1 1577.4,1899.1C1581.5,1901.3 1585.6,1908.0 1589.7,1908.0C1593.1,1908.0 1596.5,1901.7 1599.9,1901.7C1604.9,1901.7 1609.8,1908.0 1614.8,1908.0C1617.3,1908.0 1619.8,1900.1 1622.3,1897.9C1627.3,1893.5 1632.3,1889.9 1637.3,1888.6C1643.5,1887.0 1649.8,1887.0 1656.0,1885.6C1662.2,1884.2 1668.5,1879.2 1674.7,1879.2C1681.6,1879.2 1688.4,1883.7 1695.3,1883.7C1702.2,1883.7 1709.0,1878.9 1715.9,1878.1C1722.1,1877.3 1728.4,1876.9 1734.6,1876.6C1747.1,1876.0 1759.6,1875.5 1772.1,1875.5C1777.7,1875.5 1783.3,1879.2 1788.9,1879.2C1795.8,1879.2 1802.6,1874.0 1809.5,1872.8C1822.0,1870.7 1834.4,1869.8 1846.9,1868.7C1859.4,1867.6 1871.9,1866.1 1884.4,1866.1C1896.9,1866.1 1909.3,1866.1 1921.8,1866.1C1933.7,1866.1 1945.5,1866.5 1957.4,1866.9" fill="none" stroke="#FF0000" stroke-width="3.0" stroke-linejoin="round" stroke-linecap="round"/>
<path d="M1078.2,2065.5C1083.0,2066.3 1087.7,2067.1 1092.5,2068.1C1099.4,2069.5 1106.2,2070.7 1113.1,2072.9C1119.9,2075.1 1126.8,2080.5 1133.6,2084.2C1139.9,2087.6 1146.1,2090.9 1152.4,2094.3C1158.0,2097.4 1163.6,2099.4 1169.2,2103.6C1173.6,2106.9 1177.9,2115.0 1182.3,2118.6C1187.3,2122.7 1192.3,2125.2 1197.3,2128.0C1202.3,2130.8 1207.3,2134.0 1212.3,2135.5C1217.9,2137.2 1223.5,2139.2 1229.1,2139.2C1234.1,2139.2 1239.1,2134.5 1244.1,2131.7C1249.7,2128.5 1255.3,2125.0 1260.9,2120.5C1264.7,2117.5 1268.4,2112.6 1272.2,2109.3C1277.2,2105.0 1282.1,2101.3 1287.1,2098.0C1293.4,2093.8 1299.6,2089.2 1305.9,2086.8C1313.4,2083.9 1320.8,2081.4 1328.3,2080.4C1332.1,2079.9 1335.8,2079.3 1339.6,2079.3C1342.7,2079.3 1345.8,2083.8 1348.9,2083.8C1350.8,2083.8 1352.6,2079.7 1354.5,2079.3C1362.0,2077.5 1369.5,2077.8 1377.0,2076.7C1380.7,2076.1 1384.5,2074.4 1388.2,2074.4C1389.5,2074.4 1390.7,2080.4 1392.0,2080.4C1397.0,2080.4 1402.0,2078.2 1407.0,2078.2C1419.5,2078.2 1431.9,2078.4 1444.4,2078.6C1456.9,2078.8 1469.3,2081.2 1481.8,2081.2C1488.0,2081.2 1494.3,2081.2 1500.5,2081.2C1501.4,2081.2 1502.3,2076.3 1503.2,2076.3C1504.2,2076.3 1505.2,2083.1 1506.2,2083.1C1507.5,2083.1 1508.7,2083.1 1510.0,2083.1C1516.2,2083.1 1522.5,2081.4 1528.7,2080.4C1534.9,2079.4 1541.2,2077.1 1547.4,2076.7C1551.2,2076.5 1554.9,2076.3 1558.7,2076.3C1562.4,2076.3 1566.2,2079.1 1569.9,2081.2C1573.6,2083.3 1577.4,2088.5 1581.1,2090.5C1584.9,2092.5 1588.6,2095.0 1592.4,2095.0C1596.1,2095.0 1599.9,2094.3 1603.6,2094.3C1606.7,2094.3 1609.9,2101.8 1613.0,2101.8C1617.4,2101.8 1621.7,2098.3 1626.1,2096.2C1632.3,2093.2 1638.6,2088.3 1644.8,2086.1C1652.3,2083.5 1659.7,2080.9 1667.2,2080.4C1677.2,2079.7 1687.2,2079.6 1697.2,2079.3C1709.7,2079.0 1722.1,2078.6 1734.6,2078.6C1745.8,2078.6 1757.1,2079.8 1768.3,2081.9C1772.7,2082.7 1777.0,2086.0 1781.4,2088.7C1783.9,2090.3 1786.4,2094.3 1788.9,2094.3C1792.0,2094.3 1795.2,2086.6 1798.3,2084.9C1804.5,2081.6 1810.8,2080.0 1817.0,2078.6C1827.0,2076.3 1836.9,2074.8 1846.9,2073.7C1859.4,2072.3 1871.9,2070.7 1884.4,2070.7C1896.9,2070.7 1909.3,2072.9 1921.8,2072.9C1933.7,2072.9 1945.5,2072.9 1957.4,2072.9" fill="none" stroke="#00FF00" stroke-width="3.0" stroke-linejoin="round" stroke-linecap="round"/>
<path d="M1078.2,2133.6C1083.0,2134.8 1087.7,2136.3 1092.5,2138.1C1097.5,2139.9 1102.4,2142.2 1107.4,2144.8C1114.9,2148.8 1122.4,2154.5 1129.9,2159.8C1134.9,2163.3 1139.9,2166.7 1144.9,2171.0C1151.1,2176.3 1157.4,2183.6 1163.6,2189.8C1168.6,2194.8 1173.6,2194.4 1178.6,2204.7C1179.3,2206.2 1180.1,2217.8 1180.8,2217.8C1182.6,2217.8 1184.3,2214.1 1186.1,2214.1C1191.1,2214.1 1196.0,2223.2 1201.0,2227.2C1206.0,2231.2 1211.0,2236.7 1216.0,2238.4C1219.7,2239.7 1223.5,2241.0 1227.2,2241.0C1232.2,2241.0 1237.2,2236.7 1242.2,2232.8C1248.4,2227.9 1254.7,2212.2 1260.9,2204.7C1268.4,2195.7 1275.9,2188.6 1283.4,2182.3C1292.1,2175.0 1300.9,2169.2 1309.6,2163.5C1316.5,2159.0 1323.3,2153.4 1330.2,2151.2C1337.1,2149.0 1343.9,2147.9 1350.8,2146.7C1357.0,2145.6 1363.3,2144.1 1369.5,2144.1C1375.7,2144.1 1382.0,2144.1 1388.2,2144.1C1388.8,2144.1 1389.5,2139.2 1390.1,2139.2C1391.0,2139.2 1391.8,2145.9 1392.7,2146.0C1403.7,2147.6 1414.7,2147.2 1425.7,2147.8C1438.2,2148.5 1450.6,2149.4 1463.1,2149.7C1475.6,2150.0 1488.0,2150.4 1500.5,2150.4C1501.4,2150.4 1502.3,2148.6 1503.2,2148.6C1505.5,2148.6 1507.7,2150.2 1510.0,2150.4C1517.5,2151.2 1525.0,2151.2 1532.5,2151.6C1542.5,2152.1 1552.4,2152.0 1562.4,2153.1C1565.5,2153.4 1568.7,2155.8 1571.8,2157.9C1574.3,2159.6 1576.8,2163.4 1579.3,2165.4C1582.7,2168.0 1586.0,2171.8 1589.4,2171.8C1592.9,2171.8 1596.4,2167.9 1599.9,2166.5C1603.6,2165.0 1607.4,2162.8 1611.1,2162.8C1613.0,2162.8 1614.8,2166.5 1616.7,2166.5C1618.6,2166.5 1620.4,2162.2 1622.3,2161.7C1628.5,2160.0 1634.8,2159.6 1641.0,2159.1C1647.3,2158.6 1653.5,2158.4 1659.8,2157.9C1672.3,2157.0 1684.7,2155.0 1697.2,2154.2C1709.7,2153.4 1722.1,2152.9 1734.6,2152.3C1752.1,2151.4 1769.5,2151.3 1787.0,2149.7C1792.0,2149.3 1797.0,2147.5 1802.0,2146.7C1814.5,2144.8 1827.0,2142.7 1839.5,2142.2C1854.5,2141.6 1869.4,2141.1 1884.4,2141.1C1908.7,2141.1 1933.1,2141.1 1957.4,2141.8" fill="none" stroke="#008000" stroke-width="3.0" stroke-linejoin="round" stroke-linecap="round"/>
<path d="M1078.2,2331.9C1083.0,2333.4 1087.7,2335.0 1092.5,2336.8C1098.7,2339.1 1105.0,2341.3 1111.2,2344.3C1117.4,2347.3 1123.7,2351.2 1129.9,2355.5C1136.1,2359.8 1142.4,2365.2 1148.6,2370.5C1154.8,2375.8 1161.1,2381.0 1167.3,2387.3C1172.3,2392.3 1177.3,2398.6 1182.3,2404.2C1188.5,2411.1 1194.8,2419.0 1201.0,2424.8C1207.3,2430.6 1213.5,2438.6 1219.8,2439.8C1222.9,2440.4 1226.0,2440.9 1229.1,2440.9C1233.5,2440.9 1237.8,2437.4 1242.2,2434.1C1248.4,2429.4 1254.7,2414.0 1260.9,2406.1C1267.2,2398.2 1273.4,2392.1 1279.7,2385.5C1285.9,2379.0 1292.2,2371.1 1298.4,2366.7C1304.6,2362.3 1310.9,2359.1 1317.1,2356.6C1322.1,2354.6 1327.1,2351.8 1332.1,2351.8C1337.7,2351.8 1343.3,2355.5 1348.9,2355.5C1357.6,2355.5 1366.4,2349.2 1375.1,2349.2C1380.7,2349.2 1386.4,2352.4 1392.0,2353.6C1397.6,2354.8 1403.2,2356.6 1408.8,2356.6C1415.7,2356.6 1422.5,2349.9 1429.4,2349.9C1443.1,2349.9 1456.9,2350.9 1470.6,2352.9C1474.3,2353.4 1478.1,2357.2 1481.8,2358.1C1488.0,2359.6 1494.3,2361.1 1500.5,2361.1C1503.7,2361.1 1506.8,2359.4 1510.0,2358.5C1516.2,2356.7 1522.5,2354.2 1528.7,2352.9C1536.2,2351.3 1543.7,2349.2 1551.2,2349.2C1556.2,2349.2 1561.2,2350.3 1566.2,2351.8C1570.6,2353.1 1574.9,2364.3 1579.3,2366.7C1582.7,2368.6 1586.0,2370.5 1589.4,2370.5C1594.1,2370.5 1598.9,2368.6 1603.6,2368.6C1608.6,2368.6 1613.6,2373.1 1618.6,2373.1C1624.8,2373.1 1631.1,2363.4 1637.3,2361.1C1644.8,2358.4 1652.3,2356.2 1659.8,2355.5C1672.3,2354.4 1684.7,2353.9 1697.2,2353.6C1709.7,2353.3 1722.1,2352.9 1734.6,2352.9C1747.1,2352.9 1759.6,2353.8 1772.1,2355.5C1777.7,2356.2 1783.3,2363.0 1788.9,2363.0C1794.5,2363.0 1800.2,2357.7 1805.8,2355.5C1813.3,2352.6 1820.7,2349.7 1828.2,2348.0C1840.7,2345.1 1853.2,2342.4 1865.7,2341.7C1878.2,2341.0 1890.6,2340.5 1903.1,2340.5C1921.2,2340.5 1939.3,2341.4 1957.4,2343.2" fill="none" stroke="#00FFFF" stroke-width="3.0" stroke-linejoin="round" stroke-linecap="round"/>
<path d="M1078.2,2383.6C1083.0,2384.4 1087.7,2386.1 1092.5,2388.1C1098.7,2390.7 1105.0,2396.2 1111.2,2400.4C1117.4,2404.6 1123.7,2408.4 1129.9,2413.5C1136.1,2418.6 1142.4,2426.1 1148.6,2432.3C1154.8,2438.5 1161.1,2443.7 1167.3,2451.0C1172.3,2456.8 1177.3,2465.2 1182.3,2471.6C1188.5,2479.6 1194.8,2488.4 1201.0,2494.0C1207.0,2499.4 1213.0,2507.1 1219.0,2507.1C1223.6,2507.1 1228.3,2506.8 1232.9,2506.4C1237.3,2506.0 1241.6,2498.9 1246.0,2494.0C1251.0,2488.5 1255.9,2479.9 1260.9,2473.5C1267.2,2465.5 1273.4,2457.5 1279.7,2451.0C1285.9,2444.6 1292.2,2439.0 1298.4,2434.1C1304.6,2429.2 1310.9,2424.0 1317.1,2421.0C1322.1,2418.6 1327.1,2415.8 1332.1,2415.4C1338.3,2415.0 1344.6,2414.7 1350.8,2414.7C1357.0,2414.7 1363.3,2416.8 1369.5,2417.3C1373.9,2417.6 1378.2,2418.0 1382.6,2418.0C1384.5,2418.0 1386.3,2409.8 1388.2,2409.8C1390.1,2409.8 1391.9,2417.3 1393.8,2417.3C1410.7,2417.3 1427.5,2411.7 1444.4,2411.7C1453.1,2411.7 1461.9,2415.3 1470.6,2416.2C1480.6,2417.2 1490.5,2417.6 1500.5,2418.4C1503.7,2418.7 1506.8,2418.8 1510.0,2419.2C1517.5,2420.1 1525.0,2422.8 1532.5,2424.0C1542.5,2425.6 1552.4,2425.3 1562.4,2427.8C1566.8,2428.9 1571.1,2433.5 1575.5,2439.8C1578.0,2443.4 1580.5,2454.9 1583.0,2460.3C1584.9,2464.3 1586.7,2470.5 1588.6,2470.5C1591.1,2470.5 1593.6,2461.3 1596.1,2458.5C1598.6,2455.7 1601.1,2453.4 1603.6,2452.1C1608.0,2449.7 1612.3,2449.8 1616.7,2447.2C1619.8,2445.4 1623.0,2438.1 1626.1,2436.0C1631.1,2432.6 1636.0,2430.4 1641.0,2429.3C1647.3,2427.9 1653.5,2427.9 1659.8,2426.7C1667.3,2425.3 1674.7,2422.8 1682.2,2420.3C1687.2,2418.6 1692.2,2415.5 1697.2,2414.3C1707.2,2412.0 1717.1,2409.8 1727.1,2409.8C1734.6,2409.8 1742.1,2411.7 1749.6,2411.7C1757.1,2411.7 1764.6,2409.1 1772.1,2409.1C1777.1,2409.1 1782.0,2409.8 1787.0,2409.8C1790.8,2409.8 1794.5,2403.3 1798.3,2402.3C1808.3,2399.6 1818.2,2397.8 1828.2,2397.8C1840.7,2397.8 1853.2,2398.3 1865.7,2398.6C1878.2,2398.9 1890.6,2399.3 1903.1,2399.7C1921.2,2400.2 1939.3,2400.7 1957.4,2401.2" fill="none" stroke="#0000FF" stroke-width="3.0" stroke-linejoin="round" stroke-linecap="round"/>
<line x1="1331.00" y1="1534.00" x2="1331.00" y2="2645.00" stroke="#000" stroke-width="4" stroke-dasharray="5.6 11.9"/>
<line x1="1351.00" y1="1534.00" x2="1351.00" y2="2545.00" stroke="#000" stroke-width="4" stroke-dasharray="5.6 11.9"/>
<line x1="1390.00" y1="1537.00" x2="1390.00" y2="2430.00" stroke="#000" stroke-width="4" stroke-dasharray="5.6 11.9"/>
<line x1="1502.40" y1="1510.50" x2="1502.40" y2="2565.00" stroke="#000" stroke-width="4" stroke-dasharray="5.6 11.9"/>
<line x1="1618.80" y1="1513.50" x2="1618.80" y2="2565.00" stroke="#000" stroke-width="4" stroke-dasharray="5.6 11.9"/>
<line x1="1789.70" y1="1525.50" x2="1789.70" y2="2478.00" stroke="#000" stroke-width="4" stroke-dasharray="5.6 11.9"/>
<text transform="translate(1313.00,2700.76) rotate(-90) scale(0.9506,1)" font-size="52" fill="#000">1586</text>
<text transform="translate(1386.40,2667.26) rotate(-90) scale(0.9524,1)" font-size="52" fill="#000">1576</text>
<text transform="translate(1406.50,2544.88) rotate(-90) scale(0.9821,1)" font-size="52" fill="#000">1558</text>
<text transform="translate(1523.00,2676.55) rotate(-90) scale(0.9735,1)" font-size="52" fill="#000">1507</text>
<text transform="translate(1637.40,2676.51) rotate(-90) scale(0.9638,1)" font-size="52" fill="#000">1454</text>
<text transform="translate(1810.20,2593.88) rotate(-90) scale(0.9826,1)" font-size="52" fill="#000">1376</text>
<rect x="167.00" y="2861.10" width="5.00" height="1266.40" fill="#000"/>
<rect x="156.00" y="4112.10" width="891.00" height="5.80" fill="#000"/>
<rect x="1077.00" y="4112.10" width="883.00" height="5.80" fill="#000"/>
<line x1="1035" y1="4136.0" x2="1061.2" y2="4094.5" stroke="#000" stroke-width="6.5" stroke-linecap="square"/>
<line x1="1065.8" y1="4136.0" x2="1091.2" y2="4094.5" stroke="#000" stroke-width="6.5" stroke-linecap="square"/>
<rect x="143.00" y="2861.10" width="26.50" height="5.00" fill="#000"/>
<rect x="156.00" y="3111.10" width="13.50" height="5.00" fill="#000"/>
<rect x="143.00" y="3361.10" width="26.50" height="5.00" fill="#000"/>
<rect x="156.00" y="3611.10" width="13.50" height="5.00" fill="#000"/>
<rect x="143.00" y="3861.10" width="26.50" height="5.00" fill="#000"/>
<rect x="371.00" y="4115.00" width="5.00" height="25.00" fill="#000"/>
<rect x="575.50" y="4115.00" width="5.00" height="12.50" fill="#000"/>
<rect x="780.00" y="4115.00" width="5.00" height="25.00" fill="#000"/>
<rect x="984.50" y="4115.00" width="5.00" height="12.50" fill="#000"/>
<rect x="1076.00" y="4115.00" width="5.00" height="12.50" fill="#000"/>
<rect x="1295.50" y="4115.00" width="5.00" height="25.00" fill="#000"/>
<rect x="1515.00" y="4115.00" width="5.00" height="12.50" fill="#000"/>
<rect x="1734.50" y="4115.00" width="5.00" height="25.00" fill="#000"/>
<rect x="1954.00" y="4115.00" width="5.00" height="12.50" fill="#000"/>
<text transform="translate(313.52,4195.30) scale(1.0516,1)" font-size="52" fill="#000">3000</text>
<text transform="translate(721.85,4195.30) scale(1.0575,1)" font-size="52" fill="#000">2800</text>
<text transform="translate(1235.87,4195.30) scale(1.0705,1)" font-size="52" fill="#000">1600</text>
<text transform="translate(1674.87,4195.30) scale(1.0705,1)" font-size="52" fill="#000">1400</text>
<text transform="translate(762.56,4264.90) scale(1.0497,1)" font-size="65.3" fill="#000">Wavenumber (cm</text>
<text transform="translate(1299.60,4242.40) scale(0.7211,1)" font-size="60" fill="#000" stroke="#000" stroke-width="1.1">-</text>
<text transform="translate(1318.76,4239.90) scale(0.6805,1)" font-size="43.3" fill="#000">1</text>
<text transform="translate(1344.65,4264.90) scale(0.9434,1)" font-size="62" fill="#000">)</text>
<text transform="translate(134.00,3542.11) rotate(-90) scale(0.9841,1)" font-size="65.3" fill="#000">T (%)</text>
<line x1="121.5" y1="2886.1" x2="121.5" y2="3090.0" stroke="#000" stroke-width="4"/>
<polygon points="119.5,2861.1 123.5,2861.1 131.5,2893.6 111.5,2893.6" fill="#000"/>
<polygon points="119.5,3115.0 123.5,3115.0 131.5,3082.5 111.5,3082.5" fill="#000"/>
<text transform="translate(60.80,3004.00) scale(1.0597,1)" font-size="46" fill="#000">10</text>
<text transform="translate(185.79,4083.00) scale(1.0781,1)" font-size="75" fill="#000">(C)</text>
<text transform="translate(172.76,2952.80) scale(1.0369,1)" font-size="47.5" fill="#000">PCM + DCF</text>
<text transform="translate(178.06,3028.10) scale(1.0639,1)" font-size="47.5" fill="#000">PCM</text>
<text transform="translate(172.78,3202.40) scale(1.0331,1)" font-size="47.5" fill="#000">PCB + DCF</text>
<text transform="translate(178.95,3274.30) scale(1.0400,1)" font-size="47.5" fill="#000">PCB</text>
<text transform="translate(184.19,3435.20) scale(1.0547,1)" font-size="47.5" fill="#000">PAM + DCF</text>
<text transform="translate(178.33,3522.30) scale(1.0957,1)" font-size="47.5" fill="#000">PAM</text>
<text transform="translate(175.72,3678.70) scale(1.0480,1)" font-size="47.5" fill="#000">PAB + DCF</text>
<text transform="translate(173.23,3761.50) scale(1.0973,1)" font-size="47.5" fill="#000">PAB</text>
<path d="M170.5,2978.2C192.0,2978.1 213.4,2977.4 234.9,2976.7C259.9,2975.9 284.8,2972.9 309.8,2971.8C334.7,2970.7 359.7,2969.2 384.6,2969.2C403.3,2969.2 422.1,2970.4 440.8,2972.9C447.0,2973.7 453.3,2980.3 459.5,2981.2C467.0,2982.3 474.5,2981.9 482.0,2983.1C487.0,2983.9 492.0,2989.5 497.0,2994.3C502.0,2999.1 506.9,3007.4 511.9,3014.9C515.7,3020.6 519.4,3029.6 523.2,3033.6C525.9,3036.5 528.7,3040.3 531.4,3040.3C534.3,3040.3 537.1,3033.9 540.0,3029.9C544.4,3023.8 548.7,3012.7 553.1,3007.4C559.3,2999.9 565.6,2993.9 571.8,2990.5C578.1,2987.1 584.3,2984.7 590.6,2983.1C593.7,2982.3 596.9,2981.9 600.0,2981.2C606.2,2979.8 612.5,2976.7 618.7,2976.7C627.4,2976.7 636.2,2977.6 644.9,2979.3C648.7,2980.0 652.4,2984.5 656.2,2988.7C659.3,2992.1 662.4,2999.9 665.5,3003.6C668.4,3007.0 671.2,3011.9 674.1,3011.9C676.9,3011.9 679.6,3007.0 682.4,3003.6C686.1,2999.0 689.9,2989.0 693.6,2984.9C698.6,2979.4 703.6,2974.3 708.6,2972.9C716.1,2970.8 723.5,2969.9 731.0,2969.2C749.7,2967.3 768.5,2966.1 787.2,2965.5C824.6,2964.3 862.1,2963.5 899.5,2963.2C948.7,2962.8 997.8,2962.5 1047.0,2962.5" fill="none" stroke="#FDD6B8" stroke-width="3.0" stroke-linejoin="round" stroke-linecap="round"/>
<path d="M170.5,3046.0C192.0,3045.5 213.4,3044.4 234.9,3043.0C259.9,3041.4 284.8,3037.5 309.8,3035.5C334.7,3033.5 359.7,3030.6 384.6,3030.6C397.1,3030.6 409.6,3031.0 422.1,3031.7C429.6,3032.1 437.0,3038.0 444.5,3041.1C450.8,3043.7 457.0,3046.9 463.3,3048.6C469.5,3050.2 475.8,3050.1 482.0,3052.3C487.0,3054.1 492.0,3065.0 497.0,3072.9C502.0,3080.8 506.9,3090.6 511.9,3101.0C515.7,3108.9 519.4,3120.6 523.2,3127.2C526.1,3132.2 528.9,3139.6 531.8,3139.6C534.5,3139.6 537.3,3133.9 540.0,3129.1C544.4,3121.5 548.7,3099.1 553.1,3089.8C556.8,3081.8 560.6,3075.1 564.3,3071.0C570.6,3064.0 576.8,3059.6 583.1,3056.1C588.7,3052.9 594.4,3050.9 600.0,3048.6C606.2,3046.1 612.5,3041.8 618.7,3041.8C627.4,3041.8 636.2,3043.6 644.9,3046.7C648.7,3048.0 652.4,3053.8 656.2,3059.8C659.3,3064.7 662.4,3076.7 665.5,3082.3C669.0,3088.6 672.5,3097.2 676.0,3097.2C679.4,3097.2 682.7,3085.8 686.1,3078.5C689.8,3070.4 693.6,3053.6 697.3,3048.6C702.3,3041.9 707.3,3038.1 712.3,3035.5C718.5,3032.3 724.8,3029.8 731.0,3028.7C749.7,3025.5 768.5,3024.0 787.2,3023.1C824.6,3021.3 862.1,3019.8 899.5,3019.7C948.7,3019.5 997.8,3019.4 1047.0,3019.4" fill="none" stroke="#000000" stroke-width="3.0" stroke-linejoin="round" stroke-linecap="round"/>
<path d="M170.5,3231.2C195.7,3231.2 220.9,3231.2 246.1,3231.2C267.3,3231.2 288.6,3225.4 309.8,3222.9C328.5,3220.7 347.2,3217.0 365.9,3217.0C384.6,3217.0 403.4,3217.0 422.1,3217.0C427.1,3217.0 432.0,3219.0 437.0,3220.7C443.3,3222.8 449.5,3229.8 455.8,3231.2C463.3,3232.8 470.7,3232.4 478.2,3234.2C483.2,3235.4 488.2,3242.3 493.2,3248.0C498.2,3253.7 503.2,3261.0 508.2,3270.5C511.9,3277.6 515.7,3290.6 519.4,3298.6C523.5,3307.5 527.7,3321.8 531.8,3321.8C534.5,3321.8 537.3,3317.6 540.0,3313.5C543.1,3308.7 546.3,3290.2 549.4,3283.6C554.4,3273.1 559.3,3266.3 564.3,3261.1C570.6,3254.5 576.8,3250.7 583.1,3246.2C588.7,3242.1 594.4,3237.4 600.0,3234.9C607.5,3231.5 615.0,3227.4 622.5,3227.4C630.0,3227.4 637.4,3228.8 644.9,3231.2C648.7,3232.4 652.4,3238.2 656.2,3244.3C659.3,3249.3 662.4,3262.7 665.5,3268.6C668.6,3274.6 671.8,3282.8 674.9,3282.8C678.0,3282.8 681.1,3274.6 684.2,3268.6C688.0,3261.4 691.7,3244.4 695.5,3238.7C701.1,3230.3 706.7,3224.7 712.3,3221.8C718.5,3218.6 724.8,3216.7 731.0,3215.5C749.7,3211.9 768.5,3209.3 787.2,3208.7C824.6,3207.5 862.1,3207.2 899.5,3206.8C948.7,3206.3 997.8,3205.8 1047.0,3205.7" fill="none" stroke="#FF00FF" stroke-width="3.0" stroke-linejoin="round" stroke-linecap="round"/>
<path d="M170.5,3294.8C192.0,3294.8 213.4,3293.9 234.9,3293.0C259.9,3291.9 284.8,3288.3 309.8,3285.5C328.5,3283.4 347.2,3278.7 365.9,3278.7C384.6,3278.7 403.4,3279.1 422.1,3279.9C429.6,3280.2 437.0,3282.8 444.5,3285.5C450.8,3287.7 457.0,3296.7 463.3,3296.7C468.3,3296.7 473.2,3296.0 478.2,3296.0C483.2,3296.0 488.2,3301.1 493.2,3306.1C498.2,3311.1 503.2,3324.9 508.2,3336.0C513.2,3347.1 518.2,3361.3 523.2,3373.4C526.9,3382.4 530.7,3394.2 534.4,3399.7C537.9,3404.8 541.4,3410.9 544.9,3410.9C547.6,3410.9 550.4,3397.5 553.1,3384.7C555.0,3375.9 556.8,3346.1 558.7,3339.8C561.8,3329.2 565.0,3324.7 568.1,3321.0C574.3,3313.5 580.6,3310.0 586.8,3306.1C591.2,3303.4 595.6,3301.3 600.0,3299.3C607.5,3295.9 615.0,3290.3 622.5,3290.3C630.0,3290.3 637.4,3292.0 644.9,3294.8C648.7,3296.2 652.4,3302.9 656.2,3309.8C659.3,3315.5 662.4,3328.3 665.5,3336.0C670.2,3347.8 675.0,3367.1 679.7,3367.1C682.5,3367.1 685.2,3349.8 688.0,3339.8C691.1,3328.6 694.2,3308.9 697.3,3302.3C702.3,3291.6 707.3,3284.2 712.3,3281.7C721.0,3277.3 729.8,3275.5 738.5,3274.2C754.7,3271.8 771.0,3270.4 787.2,3269.7C824.6,3268.0 862.1,3267.1 899.5,3266.7C948.7,3266.1 997.8,3265.6 1047.0,3265.6" fill="none" stroke="#FF0000" stroke-width="3.0" stroke-linejoin="round" stroke-linecap="round"/>
<path d="M170.5,3468.1C192.0,3467.0 213.4,3465.7 234.9,3464.3C259.9,3462.7 284.8,3460.5 309.8,3458.7C324.8,3457.6 339.7,3455.7 354.7,3455.7C377.2,3455.7 399.6,3456.6 422.1,3458.7C427.7,3459.2 433.3,3462.5 438.9,3465.5C444.5,3468.5 450.2,3477.7 455.8,3479.3C463.3,3481.5 470.7,3481.4 478.2,3483.1C482.0,3484.0 485.7,3484.9 489.5,3486.8C494.5,3489.4 499.4,3498.2 504.4,3507.4C508.2,3514.3 511.9,3525.3 515.7,3537.3C519.4,3549.2 523.2,3566.4 526.9,3582.3C529.4,3592.9 531.9,3606.8 534.4,3616.0C536.0,3622.0 537.7,3631.7 539.3,3631.7C541.4,3631.7 543.5,3620.9 545.6,3612.2C548.1,3601.8 550.6,3575.9 553.1,3563.5C556.2,3547.9 559.4,3533.8 562.5,3526.1C566.9,3515.4 571.2,3509.1 575.6,3503.6C580.6,3497.3 585.6,3491.5 590.6,3488.7C593.7,3487.0 596.9,3486.2 600.0,3484.9C606.2,3482.2 612.5,3476.3 618.7,3476.3C627.4,3476.3 636.2,3476.6 644.9,3477.4C648.7,3477.8 652.4,3485.2 656.2,3492.4C659.3,3498.3 662.4,3511.3 665.5,3522.4C668.0,3531.3 670.5,3542.5 673.0,3552.3C674.9,3559.6 676.7,3574.0 678.6,3574.0C681.1,3574.0 683.6,3559.1 686.1,3548.6C688.6,3538.1 691.1,3517.0 693.6,3507.4C697.3,3493.1 701.1,3480.8 704.8,3475.6C711.0,3467.0 717.3,3462.2 723.5,3459.5C732.3,3455.6 741.0,3453.3 749.8,3452.0C774.7,3448.4 799.7,3446.7 824.6,3445.6C862.1,3444.0 899.5,3443.0 937.0,3442.6C973.7,3442.2 1010.3,3441.9 1047.0,3441.9" fill="none" stroke="#00FF00" stroke-width="3.0" stroke-linejoin="round" stroke-linecap="round"/>
<path d="M170.5,3546.7C192.0,3544.6 213.4,3542.6 234.9,3541.1C259.9,3539.3 284.8,3538.4 309.8,3536.6C324.8,3535.5 339.7,3532.8 354.7,3532.8C364.7,3532.8 374.6,3533.1 384.6,3533.6C397.1,3534.2 409.6,3536.4 422.1,3540.3C428.3,3542.2 434.6,3549.1 440.8,3554.2C447.0,3559.3 453.3,3571.0 459.5,3571.0C466.4,3571.0 473.2,3571.0 480.1,3571.0C483.2,3571.0 486.4,3575.2 489.5,3578.5C493.2,3582.5 497.0,3588.4 500.7,3597.2C504.4,3606.0 508.2,3626.1 511.9,3642.2C515.7,3658.4 519.4,3677.2 523.2,3694.6C525.7,3706.0 528.1,3717.8 530.6,3728.7C533.5,3741.5 536.4,3765.4 539.3,3765.4C542.0,3765.4 544.8,3741.9 547.5,3724.9C549.4,3713.3 551.2,3693.4 553.1,3680.0C556.8,3653.1 560.6,3616.7 564.3,3608.5C568.1,3600.2 571.8,3597.8 575.6,3593.5C580.6,3587.8 585.6,3582.2 590.6,3578.5C593.7,3576.2 596.9,3574.6 600.0,3572.9C607.5,3568.8 615.0,3561.7 622.5,3561.7C630.0,3561.7 637.4,3563.0 644.9,3565.4C648.7,3566.6 652.4,3574.2 656.2,3582.3C659.3,3589.0 662.4,3602.4 665.5,3616.0C668.0,3627.0 670.5,3642.9 673.0,3657.1C674.9,3667.7 676.7,3690.1 678.6,3690.1C681.1,3690.1 683.6,3664.9 686.1,3649.7C688.6,3634.5 691.1,3608.8 693.6,3597.2C697.3,3579.9 701.1,3565.8 704.8,3559.8C711.0,3549.8 717.3,3544.5 723.5,3541.1C732.3,3536.4 741.0,3533.2 749.8,3531.7C774.7,3527.4 799.7,3525.7 824.6,3524.2C862.1,3522.0 899.5,3520.3 937.0,3519.7C973.7,3519.1 1010.3,3518.6 1047.0,3518.6" fill="none" stroke="#008A58" stroke-width="3.0" stroke-linejoin="round" stroke-linecap="round"/>
<path d="M170.5,3707.0C174.5,3706.9 178.5,3706.2 182.5,3705.5C185.0,3705.0 187.5,3703.3 190.0,3703.2C217.4,3701.9 244.9,3702.5 272.3,3701.7C297.3,3701.0 322.2,3696.8 347.2,3696.8C362.2,3696.8 377.1,3696.8 392.1,3696.8C403.3,3696.8 414.6,3700.8 425.8,3705.5C430.8,3707.6 435.8,3712.2 440.8,3717.4C445.2,3722.0 449.5,3733.6 453.9,3736.9C458.9,3740.7 463.9,3744.4 468.9,3744.4C473.9,3744.4 478.8,3743.6 483.8,3743.6C486.9,3743.6 490.1,3749.6 493.2,3754.9C496.3,3760.2 499.5,3769.7 502.6,3781.1C505.7,3792.4 508.8,3813.1 511.9,3829.8C515.0,3846.7 518.2,3866.0 521.3,3882.2C524.4,3898.2 527.5,3915.1 530.6,3927.1C533.5,3938.3 536.4,3955.2 539.3,3955.2C541.4,3955.2 543.5,3944.5 545.6,3934.6C548.1,3922.8 550.6,3886.0 553.1,3867.2C556.2,3843.7 559.4,3818.1 562.5,3807.3C566.9,3792.2 571.2,3784.4 575.6,3777.3C580.6,3769.2 585.6,3764.1 590.6,3758.6C593.7,3755.2 596.9,3751.9 600.0,3749.3C606.2,3744.1 612.5,3736.2 618.7,3736.2C628.7,3736.2 638.7,3737.7 648.7,3741.8C652.4,3743.3 656.2,3762.1 659.9,3777.3C663.0,3790.1 666.2,3813.6 669.3,3829.8C672.4,3845.9 675.5,3874.7 678.6,3874.7C681.7,3874.7 684.9,3847.4 688.0,3829.8C691.1,3812.3 694.2,3779.4 697.3,3766.1C702.3,3744.6 707.3,3727.7 712.3,3721.2C718.5,3713.1 724.8,3708.7 731.0,3706.2C743.5,3701.1 756.0,3698.6 768.5,3696.8C787.2,3694.1 805.9,3692.0 824.6,3691.2C862.1,3689.5 899.5,3688.6 937.0,3688.2C973.7,3687.8 1010.3,3687.5 1047.0,3687.5" fill="none" stroke="#00FFFF" stroke-width="3.0" stroke-linejoin="round" stroke-linecap="round"/>
<path d="M170.5,3778.1C192.0,3776.2 213.4,3774.4 234.9,3772.8C259.9,3771.0 284.8,3769.6 309.8,3768.0C323.5,3767.1 337.3,3765.4 351.0,3765.4C364.7,3765.4 378.4,3766.6 392.1,3768.0C402.1,3769.0 412.1,3771.6 422.1,3775.5C427.1,3777.4 432.0,3781.1 437.0,3785.6C444.5,3792.4 452.0,3818.5 459.5,3818.5C463.2,3818.5 467.0,3817.6 470.7,3816.7C473.8,3816.0 477.0,3812.9 480.1,3812.9C483.2,3812.9 486.4,3818.0 489.5,3822.3C493.2,3827.5 497.0,3837.2 500.7,3848.5C504.4,3859.8 508.2,3876.8 511.9,3897.1C515.0,3914.2 518.2,3940.7 521.3,3964.5C524.4,3988.0 527.5,4018.4 530.6,4039.4C534.0,4062.4 537.4,4098.6 540.8,4098.6C543.7,4098.6 546.5,4065.4 549.4,4039.4C551.9,4016.8 554.4,3962.8 556.9,3942.1C559.4,3921.7 561.8,3907.0 564.3,3897.1C566.8,3887.1 569.3,3880.5 571.8,3874.7C578.1,3860.1 584.3,3850.7 590.6,3841.0C593.7,3836.2 596.9,3831.8 600.0,3827.9C603.7,3823.3 607.5,3817.7 611.2,3815.5C615.6,3812.9 619.9,3810.3 624.3,3810.3C631.2,3810.3 638.0,3811.1 644.9,3812.9C647.4,3813.6 649.9,3817.7 652.4,3822.3C654.9,3826.9 657.4,3837.2 659.9,3848.5C662.4,3859.8 664.9,3878.7 667.4,3897.1C669.9,3915.5 672.4,3940.0 674.9,3960.8C676.5,3974.1 678.1,4000.1 679.7,4000.1C681.8,4000.1 684.0,3969.1 686.1,3949.6C688.6,3926.7 691.1,3884.9 693.6,3867.2C697.3,3840.8 701.1,3820.0 704.8,3811.0C711.0,3795.9 717.3,3787.8 723.5,3783.0C732.3,3776.3 741.0,3772.3 749.8,3769.9C762.3,3766.5 774.7,3764.4 787.2,3763.1C812.2,3760.5 837.1,3758.9 862.1,3757.9C899.5,3756.4 937.0,3755.5 974.4,3754.9C998.6,3754.5 1022.8,3754.2 1047.0,3754.1" fill="none" stroke="#0000FF" stroke-width="3.0" stroke-linejoin="round" stroke-linecap="round"/>
<path d="M1078.2,2970.4C1081.7,2969.4 1085.2,2969.3 1088.7,2969.3C1094.9,2969.3 1101.2,2972.4 1107.4,2976.8C1109.3,2978.1 1111.2,2985.4 1113.1,2985.4C1115.6,2985.4 1118.0,2982.4 1120.5,2982.4C1128.6,2982.4 1136.8,2994.1 1144.9,2999.3C1151.1,3003.3 1157.4,3007.1 1163.6,3010.5C1169.2,3013.6 1174.8,3015.9 1180.4,3019.1C1187.3,3023.1 1194.1,3027.7 1201.0,3033.0C1207.0,3037.6 1213.0,3049.1 1219.0,3049.1C1223.0,3049.1 1227.0,3045.0 1231.0,3042.3C1237.2,3038.1 1243.5,3031.7 1249.7,3026.6C1255.9,3021.5 1262.2,3015.2 1268.4,3011.6C1274.6,3008.0 1280.9,3006.0 1287.1,3003.0C1292.7,3000.3 1298.4,2994.4 1304.0,2994.4C1309.0,2994.4 1314.0,2995.5 1319.0,2996.6C1322.1,2997.3 1325.2,3000.4 1328.3,3000.4C1332.1,3000.4 1335.8,2997.4 1339.6,2997.4C1343.1,2997.4 1346.5,3003.0 1350.0,3003.0C1352.8,3003.0 1355.5,2996.3 1358.3,2993.6C1362.0,2990.0 1365.8,2985.7 1369.5,2984.3C1372.0,2983.4 1374.5,2982.4 1377.0,2982.4C1380.7,2982.4 1384.5,2991.0 1388.2,2991.0C1392.0,2991.0 1395.7,2980.3 1399.5,2978.7C1403.2,2977.1 1407.0,2976.7 1410.7,2975.7C1415.7,2974.4 1420.7,2972.2 1425.7,2971.9C1431.9,2971.5 1438.2,2971.2 1444.4,2971.2C1453.1,2971.2 1461.9,2974.0 1470.6,2976.8C1474.3,2978.0 1478.1,2980.4 1481.8,2982.4C1488.0,2985.8 1494.3,2993.6 1500.5,2993.6C1503.0,2993.6 1505.5,2993.3 1508.0,2992.9C1513.0,2992.2 1518.1,2986.9 1523.1,2986.9C1526.2,2986.9 1529.4,2990.9 1532.5,2993.6C1535.6,2996.3 1538.7,3004.1 1541.8,3004.1C1544.9,3004.1 1548.1,2995.0 1551.2,2991.7C1555.6,2987.1 1559.9,2980.5 1564.3,2980.5C1568.0,2980.5 1571.8,2982.3 1575.5,2984.2C1579.9,2986.4 1584.2,2999.2 1588.6,2999.2C1592.4,2999.2 1596.1,2995.5 1599.9,2995.5C1603.0,2995.5 1606.1,2995.9 1609.2,2996.6C1611.7,2997.1 1614.2,3004.8 1616.7,3004.8C1619.8,3004.8 1623.0,3001.4 1626.1,2999.2C1631.1,2995.7 1636.0,2989.0 1641.0,2986.1C1647.3,2982.4 1653.5,2979.7 1659.8,2977.9C1666.0,2976.1 1672.3,2974.4 1678.5,2973.8C1691.0,2972.7 1703.4,2972.5 1715.9,2971.9C1725.9,2971.4 1735.9,2970.4 1745.9,2970.4C1753.4,2970.4 1760.8,2972.9 1768.3,2974.9C1775.2,2976.7 1782.0,2983.1 1788.9,2983.1C1795.8,2983.1 1802.6,2982.4 1809.5,2981.6C1815.7,2980.9 1822.0,2978.4 1828.2,2976.7C1836.9,2974.3 1845.7,2969.9 1854.4,2969.3C1864.4,2968.6 1874.4,2968.1 1884.4,2968.1C1890.6,2968.1 1896.9,2968.7 1903.1,2969.3C1910.6,2970.0 1918.1,2973.8 1925.6,2973.8C1936.2,2973.8 1946.8,2973.8 1957.4,2972.3" fill="none" stroke="#FDD6B8" stroke-width="3.0" stroke-linejoin="round" stroke-linecap="round"/>
<path d="M1078.2,3028.1C1079.2,3030.7 1080.2,3033.9 1081.2,3034.8C1085.0,3038.3 1088.7,3038.2 1092.5,3040.4C1098.7,3044.0 1105.0,3048.6 1111.2,3053.5C1117.4,3058.4 1123.7,3064.5 1129.9,3070.4C1134.9,3075.2 1139.9,3080.0 1144.9,3085.4C1151.1,3092.2 1157.4,3100.6 1163.6,3107.8C1169.8,3115.0 1176.1,3121.9 1182.3,3128.4C1188.5,3134.9 1194.8,3139.7 1201.0,3147.1C1207.0,3154.2 1213.0,3173.4 1219.0,3173.4C1223.0,3173.4 1227.0,3160.2 1231.0,3154.6C1236.0,3147.6 1241.0,3143.6 1246.0,3135.9C1251.6,3127.3 1257.2,3111.1 1262.8,3102.2C1268.4,3093.2 1274.1,3086.3 1279.7,3079.8C1285.9,3072.7 1292.2,3065.7 1298.4,3061.0C1303.4,3057.2 1308.4,3053.5 1313.4,3051.7C1318.4,3049.9 1323.3,3049.3 1328.3,3047.9C1335.8,3045.8 1343.3,3041.9 1350.8,3040.4C1357.0,3039.2 1363.3,3038.3 1369.5,3037.8C1375.7,3037.3 1382.0,3037.4 1388.2,3036.7C1390.7,3036.4 1393.2,3033.3 1395.7,3033.0C1405.7,3031.7 1415.7,3031.6 1425.7,3031.1C1431.9,3030.8 1438.2,3030.3 1444.4,3030.3C1459.4,3030.3 1474.3,3030.7 1489.3,3031.8C1493.0,3032.1 1496.8,3034.6 1500.5,3036.7C1503.0,3038.1 1505.5,3040.2 1508.0,3042.3C1508.7,3042.9 1509.3,3044.1 1510.0,3044.1C1514.4,3044.1 1518.7,3044.1 1523.1,3044.1C1526.2,3044.1 1529.4,3052.1 1532.5,3057.2C1535.6,3062.2 1538.7,3075.2 1541.8,3075.2C1544.9,3075.2 1548.1,3061.4 1551.2,3057.2C1554.9,3052.2 1558.7,3046.5 1562.4,3046.0C1565.5,3045.6 1568.7,3045.3 1571.8,3045.3C1574.3,3045.3 1576.8,3054.0 1579.3,3057.2C1582.7,3061.5 1586.0,3067.7 1589.4,3067.7C1592.9,3067.7 1596.4,3061.9 1599.9,3061.0C1603.6,3060.0 1607.4,3060.1 1611.1,3059.1C1614.8,3058.1 1618.6,3052.6 1622.3,3050.9C1627.3,3048.6 1632.3,3046.9 1637.3,3046.0C1644.8,3044.7 1652.3,3044.3 1659.8,3043.4C1667.3,3042.5 1674.7,3041.3 1682.2,3040.4C1689.7,3039.5 1697.2,3038.2 1704.7,3037.8C1714.7,3037.2 1724.6,3036.7 1734.6,3036.7C1747.1,3036.7 1759.6,3037.1 1772.1,3037.8C1777.1,3038.1 1782.0,3040.4 1787.0,3040.4C1789.5,3040.4 1792.0,3039.6 1794.5,3039.3C1805.7,3037.8 1817.0,3036.5 1828.2,3035.5C1840.7,3034.4 1853.2,3032.9 1865.7,3032.9C1896.3,3032.9 1926.8,3032.9 1957.4,3032.9" fill="none" stroke="#000000" stroke-width="3.0" stroke-linejoin="round" stroke-linecap="round"/>
<path d="M1078.2,3212.9C1079.2,3214.6 1080.2,3216.6 1081.2,3217.4C1085.0,3220.5 1088.7,3220.9 1092.5,3223.1C1098.7,3226.7 1105.0,3232.3 1111.2,3236.2C1117.4,3240.1 1123.7,3242.2 1129.9,3246.6C1134.9,3250.1 1139.9,3255.9 1144.9,3260.5C1151.1,3266.2 1157.4,3271.4 1163.6,3277.3C1168.6,3282.0 1173.6,3284.4 1178.6,3292.3C1179.8,3294.2 1181.1,3300.0 1182.3,3301.7C1188.5,3310.3 1194.8,3310.9 1201.0,3316.7C1207.3,3322.5 1213.5,3337.2 1219.8,3337.2C1223.5,3337.2 1227.3,3334.3 1231.0,3331.6C1236.0,3327.9 1241.0,3316.3 1246.0,3309.2C1251.6,3301.3 1257.2,3292.7 1262.8,3286.7C1268.4,3280.7 1274.1,3276.7 1279.7,3271.7C1284.7,3267.3 1289.6,3260.7 1294.6,3258.6C1299.0,3256.8 1303.3,3254.9 1307.7,3254.9C1314.6,3254.9 1321.4,3263.1 1328.3,3263.1C1332.1,3263.1 1335.8,3260.5 1339.6,3260.5C1343.1,3260.5 1346.5,3271.7 1350.0,3271.7C1352.8,3271.7 1355.5,3261.6 1358.3,3256.7C1361.4,3251.2 1364.5,3241.8 1367.6,3240.7C1370.1,3239.8 1372.6,3239.2 1375.1,3239.2C1377.6,3239.2 1380.1,3241.3 1382.6,3243.6C1384.2,3245.1 1385.9,3253.0 1387.5,3253.0C1390.2,3253.0 1393.0,3249.8 1395.7,3247.4C1399.5,3244.1 1403.2,3235.0 1407.0,3232.4C1413.2,3228.1 1419.5,3225.7 1425.7,3224.2C1431.9,3222.7 1438.2,3221.2 1444.4,3221.2C1450.6,3221.2 1456.9,3222.6 1463.1,3224.2C1469.3,3225.8 1475.6,3231.6 1481.8,3236.2C1486.8,3239.9 1491.8,3245.8 1496.8,3249.3C1499.9,3251.5 1503.1,3254.9 1506.2,3254.9C1507.5,3254.9 1508.7,3254.9 1510.0,3254.8C1515.0,3254.6 1520.0,3245.5 1525.0,3245.5C1527.5,3245.5 1530.0,3250.0 1532.5,3253.0C1536.0,3257.2 1539.4,3269.8 1542.9,3269.8C1546.3,3269.8 1549.7,3252.2 1553.1,3247.3C1556.8,3241.9 1560.6,3235.4 1564.3,3235.4C1568.0,3235.4 1571.8,3239.8 1575.5,3243.6C1579.2,3247.4 1583.0,3261.6 1586.7,3261.6C1591.7,3261.6 1596.7,3253.0 1601.7,3253.0C1604.2,3253.0 1606.7,3254.8 1609.2,3256.7C1612.1,3258.9 1614.9,3271.7 1617.8,3271.7C1621.8,3271.7 1625.8,3263.4 1629.8,3258.6C1634.8,3252.5 1639.8,3241.4 1644.8,3238.0C1653.5,3232.0 1662.3,3228.1 1671.0,3226.7C1679.7,3225.3 1688.5,3224.9 1697.2,3224.1C1709.7,3223.0 1722.1,3221.1 1734.6,3221.1C1744.6,3221.1 1754.6,3223.9 1764.6,3226.7C1772.7,3229.0 1780.8,3239.9 1788.9,3239.9C1794.5,3239.9 1800.2,3239.0 1805.8,3238.0C1813.3,3236.7 1820.7,3230.4 1828.2,3227.9C1840.7,3223.7 1853.2,3218.1 1865.7,3218.1C1878.2,3218.1 1890.6,3218.5 1903.1,3219.3C1910.6,3219.8 1918.1,3224.9 1925.6,3224.9C1936.2,3224.9 1946.8,3224.9 1957.4,3223.8" fill="none" stroke="#FF00FF" stroke-width="3.0" stroke-linejoin="round" stroke-linecap="round"/>
<path d="M1078.2,3269.9C1083.0,3272.7 1087.7,3275.4 1092.5,3278.1C1098.7,3281.6 1105.0,3284.1 1111.2,3288.6C1117.4,3293.1 1123.7,3300.5 1129.9,3307.3C1136.1,3314.1 1142.4,3322.3 1148.6,3329.8C1154.8,3337.3 1161.1,3346.0 1167.3,3352.2C1171.7,3356.5 1176.0,3358.0 1180.4,3363.5C1182.3,3365.9 1184.2,3372.3 1186.1,3374.7C1191.1,3381.1 1196.0,3382.2 1201.0,3387.8C1204.8,3392.0 1208.5,3399.5 1212.3,3404.6C1214.8,3408.0 1217.3,3414.0 1219.8,3414.0C1223.5,3414.0 1227.3,3409.9 1231.0,3406.5C1236.0,3402.0 1241.0,3392.4 1246.0,3384.0C1251.6,3374.6 1257.2,3362.1 1262.8,3352.2C1268.4,3342.2 1274.1,3331.6 1279.7,3324.1C1285.9,3315.8 1292.2,3308.3 1298.4,3303.5C1305.9,3297.7 1313.3,3293.0 1320.8,3290.4C1329.5,3287.4 1338.3,3286.3 1347.0,3284.1C1354.5,3282.2 1362.0,3279.5 1369.5,3278.1C1375.1,3277.0 1380.8,3277.6 1386.4,3275.5C1387.3,3275.2 1388.1,3269.9 1389.0,3269.9C1391.2,3269.9 1393.5,3274.3 1395.7,3274.3C1405.7,3274.3 1415.7,3273.1 1425.7,3272.5C1438.2,3271.8 1450.6,3271.1 1463.1,3270.6C1469.3,3270.3 1475.6,3269.9 1481.8,3269.9C1488.0,3269.9 1494.3,3273.9 1500.5,3278.1C1503.0,3279.8 1505.5,3285.5 1508.0,3286.7C1508.7,3287.0 1509.3,3287.4 1510.0,3287.4C1513.7,3287.4 1517.5,3285.5 1521.2,3285.5C1524.3,3285.5 1527.5,3291.5 1530.6,3296.0C1534.7,3301.9 1538.8,3322.2 1542.9,3322.2C1546.3,3322.2 1549.7,3304.4 1553.1,3299.8C1557.2,3294.2 1561.3,3287.8 1565.4,3287.8C1568.1,3287.8 1570.9,3290.7 1573.6,3294.1C1576.5,3297.7 1579.4,3321.5 1582.3,3321.5C1586.3,3321.5 1590.2,3309.9 1594.2,3305.4C1597.3,3301.8 1600.5,3296.0 1603.6,3296.0C1606.1,3296.0 1608.6,3299.0 1611.1,3299.0C1614.8,3299.0 1618.6,3292.1 1622.3,3290.4C1628.5,3287.6 1634.8,3284.8 1641.0,3284.8C1646.0,3284.8 1651.0,3286.7 1656.0,3286.7C1663.5,3286.7 1671.0,3280.1 1678.5,3279.2C1691.0,3277.6 1703.4,3276.5 1715.9,3276.5C1734.6,3276.5 1753.4,3276.7 1772.1,3277.3C1777.7,3277.5 1783.3,3279.2 1788.9,3279.2C1795.8,3279.2 1802.6,3274.2 1809.5,3273.5C1828.2,3271.7 1847.0,3270.6 1865.7,3270.6C1896.3,3270.6 1926.8,3270.6 1957.4,3270.6" fill="none" stroke="#FF0000" stroke-width="3.0" stroke-linejoin="round" stroke-linecap="round"/>
<path d="M1078.2,3453.7C1083.0,3453.8 1087.7,3455.6 1092.5,3457.4C1097.5,3459.3 1102.4,3468.7 1107.4,3468.7C1109.3,3468.7 1111.2,3467.9 1113.1,3467.9C1113.7,3467.9 1114.3,3473.2 1114.9,3474.3C1119.9,3483.4 1124.9,3484.0 1129.9,3489.3C1134.9,3494.6 1139.9,3500.5 1144.9,3506.1C1151.1,3513.0 1157.4,3519.3 1163.6,3526.7C1169.8,3534.1 1176.1,3544.4 1182.3,3551.0C1188.5,3557.6 1194.8,3563.6 1201.0,3567.9C1207.0,3572.0 1213.0,3578.0 1219.0,3578.0C1224.2,3578.0 1229.5,3573.7 1234.7,3569.8C1239.1,3566.5 1243.4,3559.5 1247.8,3552.9C1252.2,3546.3 1256.5,3535.3 1260.9,3528.6C1267.2,3518.9 1273.4,3511.7 1279.7,3504.2C1285.9,3496.8 1292.2,3488.2 1298.4,3483.6C1304.6,3479.0 1310.9,3474.2 1317.1,3473.2C1322.1,3472.4 1327.1,3472.4 1332.1,3471.7C1338.1,3470.8 1344.0,3468.9 1350.0,3466.8C1355.3,3465.0 1360.5,3460.5 1365.8,3459.3C1372.0,3457.9 1378.3,3456.7 1384.5,3456.7C1386.0,3456.7 1387.5,3460.4 1389.0,3460.4C1395.0,3460.4 1401.0,3454.9 1407.0,3453.7C1419.5,3451.3 1431.9,3449.2 1444.4,3449.2C1456.9,3449.2 1469.3,3452.2 1481.8,3453.7C1489.3,3454.6 1496.8,3456.3 1504.3,3456.3C1506.2,3456.3 1508.1,3455.6 1510.0,3455.6C1515.0,3455.6 1520.0,3455.6 1525.0,3455.6C1530.0,3455.6 1535.0,3469.7 1540.0,3470.5C1547.5,3471.7 1554.9,3471.3 1562.4,3472.4C1566.8,3473.1 1571.1,3474.4 1575.5,3478.0C1577.4,3479.6 1579.2,3490.4 1581.1,3494.9C1583.6,3501.0 1586.1,3509.9 1588.6,3509.9C1591.1,3509.9 1593.6,3504.1 1596.1,3500.5C1599.2,3496.0 1602.4,3484.4 1605.5,3484.4C1608.0,3484.4 1610.5,3484.4 1613.0,3484.4C1616.1,3484.4 1619.2,3479.0 1622.3,3476.9C1628.5,3472.6 1634.8,3468.3 1641.0,3466.1C1647.3,3463.8 1653.5,3462.8 1659.8,3461.2C1666.0,3459.6 1672.3,3456.7 1678.5,3456.7C1684.7,3456.7 1691.0,3458.6 1697.2,3458.6C1703.4,3458.6 1709.7,3454.8 1715.9,3454.8C1734.6,3454.8 1753.4,3455.4 1772.1,3456.7C1776.5,3457.0 1780.8,3460.1 1785.2,3460.1C1793.3,3460.1 1801.4,3457.2 1809.5,3456.3C1822.0,3454.8 1834.4,3453.3 1846.9,3452.9C1865.6,3452.3 1884.4,3451.8 1903.1,3451.8C1911.8,3451.8 1920.6,3455.6 1929.3,3455.6C1938.7,3455.6 1948.0,3455.6 1957.4,3455.6" fill="none" stroke="#00FF00" stroke-width="3.0" stroke-linejoin="round" stroke-linecap="round"/>
<path d="M1078.2,3528.6C1083.0,3530.0 1087.7,3532.0 1092.5,3534.2C1098.7,3537.1 1105.0,3540.6 1111.2,3545.4C1117.4,3550.2 1123.7,3558.8 1129.9,3566.0C1136.1,3573.2 1142.4,3580.2 1148.6,3588.5C1153.6,3595.2 1158.6,3603.2 1163.6,3610.9C1169.8,3620.5 1176.1,3633.3 1182.3,3640.9C1187.3,3647.0 1192.3,3652.1 1197.3,3655.9C1202.5,3659.9 1207.8,3665.5 1213.0,3665.5C1217.7,3665.5 1222.5,3664.6 1227.2,3663.4C1233.5,3661.8 1239.7,3650.6 1246.0,3640.9C1252.2,3631.2 1258.5,3611.3 1264.7,3599.7C1270.9,3588.1 1277.2,3577.9 1283.4,3569.8C1289.6,3561.7 1295.9,3553.8 1302.1,3549.2C1309.6,3543.6 1317.1,3539.4 1324.6,3536.8C1333.3,3533.8 1342.1,3532.3 1350.8,3530.4C1357.0,3529.0 1363.3,3527.5 1369.5,3526.7C1375.7,3525.9 1382.0,3524.8 1388.2,3524.8C1388.8,3524.8 1389.5,3527.4 1390.1,3527.4C1395.7,3527.4 1401.4,3522.2 1407.0,3521.8C1419.5,3520.8 1431.9,3520.3 1444.4,3520.3C1454.4,3520.3 1464.3,3520.6 1474.3,3521.1C1484.3,3521.6 1494.3,3524.1 1504.3,3526.7C1506.2,3527.2 1508.1,3528.0 1510.0,3528.6C1515.0,3530.1 1520.0,3530.1 1525.0,3532.3C1528.7,3533.9 1532.5,3542.6 1536.2,3547.3C1539.9,3552.0 1543.7,3559.7 1547.4,3560.4C1554.9,3561.7 1562.4,3560.9 1569.9,3562.3C1572.4,3562.8 1574.9,3565.7 1577.4,3569.8C1579.3,3572.9 1581.1,3585.8 1583.0,3592.2C1584.9,3598.6 1586.7,3609.1 1588.6,3609.1C1591.1,3609.1 1593.6,3593.1 1596.1,3588.5C1599.8,3581.6 1603.6,3576.5 1607.3,3573.5C1610.4,3570.9 1613.6,3570.0 1616.7,3567.9C1621.1,3565.0 1625.4,3559.6 1629.8,3557.8C1637.3,3554.7 1644.8,3553.8 1652.3,3551.8C1661.0,3549.5 1669.8,3544.7 1678.5,3544.7C1684.7,3544.7 1691.0,3545.4 1697.2,3545.4C1704.7,3545.4 1712.2,3540.5 1719.7,3539.8C1730.9,3538.7 1742.2,3538.4 1753.4,3537.9C1764.6,3537.4 1775.8,3537.5 1787.0,3536.8C1794.5,3536.4 1802.0,3533.5 1809.5,3532.3C1822.0,3530.4 1834.4,3528.7 1846.9,3527.8C1865.6,3526.4 1884.4,3524.8 1903.1,3524.8C1921.2,3524.8 1939.3,3525.3 1957.4,3526.7" fill="none" stroke="#008A58" stroke-width="3.0" stroke-linejoin="round" stroke-linecap="round"/>
<path d="M1078.2,3703.1C1083.0,3704.5 1087.7,3706.5 1092.5,3708.7C1098.7,3711.6 1105.0,3713.3 1111.2,3719.9C1112.4,3721.2 1113.7,3726.1 1114.9,3727.4C1119.9,3732.7 1124.9,3732.7 1129.9,3736.7C1134.9,3740.7 1139.9,3747.8 1144.9,3753.6C1151.1,3760.8 1157.4,3768.9 1163.6,3776.1C1168.6,3781.9 1173.6,3788.4 1178.6,3792.9C1183.6,3797.4 1188.5,3799.3 1193.5,3804.1C1196.0,3806.5 1198.5,3812.4 1201.0,3813.5C1206.0,3815.7 1211.0,3817.2 1216.0,3817.2C1221.0,3817.2 1226.0,3813.2 1231.0,3809.8C1236.0,3806.4 1241.0,3799.1 1246.0,3792.9C1251.0,3786.7 1255.9,3777.5 1260.9,3772.3C1267.2,3765.7 1273.4,3761.8 1279.7,3756.6C1284.7,3752.5 1289.6,3747.8 1294.6,3744.2C1298.4,3741.4 1302.1,3736.7 1305.9,3736.7C1309.6,3736.7 1313.4,3736.7 1317.1,3736.7C1320.2,3736.7 1323.4,3741.6 1326.5,3741.6C1330.9,3741.6 1335.2,3737.9 1339.6,3737.9C1343.1,3737.9 1346.5,3741.6 1350.0,3741.6C1352.8,3741.6 1355.5,3730.6 1358.3,3725.5C1360.8,3720.9 1363.3,3712.4 1365.8,3712.4C1369.5,3712.4 1373.3,3714.6 1377.0,3716.9C1380.7,3719.2 1384.5,3733.0 1388.2,3733.0C1391.3,3733.0 1394.5,3723.9 1397.6,3719.9C1402.0,3714.4 1406.3,3704.9 1410.7,3704.9C1415.1,3704.9 1419.4,3705.6 1423.8,3706.8C1426.3,3707.5 1428.8,3718.0 1431.3,3718.0C1435.0,3718.0 1438.8,3698.2 1442.5,3698.2C1446.9,3698.2 1451.2,3703.0 1455.6,3704.9C1460.6,3707.1 1465.6,3708.3 1470.6,3710.5C1474.3,3712.1 1478.1,3714.1 1481.8,3716.2C1486.8,3719.0 1491.8,3720.9 1496.8,3725.5C1499.3,3727.8 1501.8,3736.7 1504.3,3736.7C1506.8,3736.7 1509.3,3721.5 1511.8,3719.9C1516.2,3717.1 1520.6,3715.4 1525.0,3715.4C1527.5,3715.4 1530.0,3725.0 1532.5,3727.4C1537.5,3732.1 1542.4,3736.7 1547.4,3736.7C1553.0,3736.7 1558.7,3736.7 1564.3,3736.7C1567.4,3736.7 1570.5,3740.1 1573.6,3744.2C1576.1,3747.5 1578.6,3760.6 1581.1,3768.6C1583.9,3777.5 1586.6,3794.8 1589.4,3794.8C1592.3,3794.8 1595.1,3782.0 1598.0,3776.1C1601.1,3769.7 1604.2,3758.9 1607.3,3758.1C1609.2,3757.6 1611.1,3757.3 1613.0,3757.3C1614.9,3757.3 1616.7,3763.0 1618.6,3763.0C1622.3,3763.0 1626.1,3756.2 1629.8,3751.7C1634.8,3745.7 1639.8,3733.6 1644.8,3729.3C1652.3,3722.8 1659.7,3718.8 1667.2,3716.2C1674.7,3713.5 1682.2,3711.9 1689.7,3710.5C1698.4,3708.9 1707.2,3706.8 1715.9,3706.8C1732.1,3706.8 1748.4,3707.1 1764.6,3707.9C1771.5,3708.2 1778.3,3722.9 1785.2,3722.9C1793.3,3722.9 1801.4,3721.4 1809.5,3719.9C1818.2,3718.2 1827.0,3710.7 1835.7,3708.7C1845.7,3706.5 1855.7,3705.2 1865.7,3704.2C1875.7,3703.2 1885.6,3701.9 1895.6,3701.9C1904.3,3701.9 1913.1,3706.3 1921.8,3706.8C1933.7,3707.5 1945.5,3707.9 1957.4,3707.9" fill="none" stroke="#00FFFF" stroke-width="3.0" stroke-linejoin="round" stroke-linecap="round"/>
<path d="M1078.2,3763.0C1083.0,3764.7 1087.7,3767.3 1092.5,3770.4C1098.7,3774.5 1105.0,3781.4 1111.2,3787.3C1117.4,3793.2 1123.7,3798.5 1129.9,3806.0C1134.9,3812.0 1139.9,3821.2 1144.9,3828.5C1151.1,3837.5 1157.4,3845.7 1163.6,3854.7C1169.8,3863.7 1176.1,3876.0 1182.3,3882.8C1187.3,3888.3 1192.3,3892.9 1197.3,3895.9C1203.3,3899.5 1209.3,3904.1 1215.3,3904.1C1220.5,3904.1 1225.8,3899.8 1231.0,3895.9C1236.0,3892.2 1241.0,3884.8 1246.0,3877.1C1251.0,3869.4 1255.9,3856.6 1260.9,3847.2C1267.2,3835.3 1273.4,3822.0 1279.7,3813.5C1285.9,3805.0 1292.2,3797.7 1298.4,3792.9C1304.6,3788.1 1310.9,3783.9 1317.1,3781.7C1322.1,3779.9 1327.1,3779.1 1332.1,3777.9C1337.7,3776.6 1343.3,3775.6 1348.9,3774.2C1355.8,3772.5 1362.6,3770.2 1369.5,3768.6C1374.5,3767.5 1379.5,3767.8 1384.5,3765.6C1385.7,3765.1 1387.0,3758.1 1388.2,3758.1C1389.5,3758.1 1390.7,3764.8 1392.0,3764.8C1397.0,3764.8 1402.0,3763.5 1407.0,3763.0C1419.5,3761.8 1431.9,3760.3 1444.4,3760.3C1456.9,3760.3 1469.3,3760.6 1481.8,3761.1C1489.3,3761.4 1496.8,3763.8 1504.3,3764.8C1506.2,3765.1 1508.1,3765.2 1510.0,3765.5C1513.3,3766.0 1516.7,3766.5 1520.0,3767.8C1521.9,3768.5 1523.8,3771.2 1525.7,3773.2C1527.4,3774.9 1529.0,3776.8 1530.7,3779.0C1532.5,3781.4 1534.4,3784.5 1536.2,3787.3C1539.9,3792.9 1543.7,3803.2 1547.4,3804.1C1554.9,3805.9 1562.4,3804.9 1569.9,3806.8C1572.4,3807.4 1574.9,3811.5 1577.4,3817.2C1579.3,3821.4 1581.1,3838.6 1583.0,3847.2C1584.9,3855.8 1586.7,3869.7 1588.6,3869.7C1591.1,3869.7 1593.6,3847.4 1596.1,3839.7C1598.6,3832.0 1601.1,3825.0 1603.6,3821.0C1608.6,3812.9 1613.6,3808.8 1618.6,3804.1C1622.3,3800.6 1626.1,3797.0 1629.8,3794.8C1637.3,3790.5 1644.8,3788.0 1652.3,3785.4C1661.0,3782.4 1669.8,3779.6 1678.5,3777.9C1691.0,3775.4 1703.4,3772.3 1715.9,3772.3C1728.4,3772.3 1740.9,3774.5 1753.4,3775.3C1763.4,3775.9 1773.3,3776.8 1783.3,3776.8C1792.0,3776.8 1800.8,3772.6 1809.5,3771.6C1822.0,3770.1 1834.4,3769.5 1846.9,3768.6C1865.6,3767.2 1884.4,3764.8 1903.1,3764.8C1921.2,3764.8 1939.3,3764.8 1957.4,3765.6" fill="none" stroke="#0000FF" stroke-width="3.0" stroke-linejoin="round" stroke-linecap="round"/>
<line x1="1326.80" y1="2927.00" x2="1326.80" y2="3946.00" stroke="#000" stroke-width="4" stroke-dasharray="5.6 11.9"/>
<line x1="1350.50" y1="2944.00" x2="1350.50" y2="3984.00" stroke="#000" stroke-width="4" stroke-dasharray="5.6 11.9"/>
<line x1="1390.20" y1="2937.60" x2="1390.20" y2="3833.00" stroke="#000" stroke-width="4" stroke-dasharray="5.6 11.9"/>
<line x1="1504.00" y1="2931.00" x2="1504.00" y2="3900.00" stroke="#000" stroke-width="4" stroke-dasharray="5.6 11.9"/>
<line x1="1619.30" y1="2937.60" x2="1619.30" y2="3914.00" stroke="#000" stroke-width="4" stroke-dasharray="5.6 11.9"/>
<line x1="1794.20" y1="2934.40" x2="1794.20" y2="3863.00" stroke="#000" stroke-width="4" stroke-dasharray="5.6 11.9"/>
<text transform="translate(1316.00,3963.93) rotate(-90) scale(0.9955,1)" font-size="52" fill="#000">1587</text>
<text transform="translate(1365.20,4103.91) rotate(-90) scale(1.0146,1)" font-size="52" fill="#000">1576</text>
<text transform="translate(1413.50,3973.50) rotate(-90) scale(0.9876,1)" font-size="52" fill="#000">1558</text>
<text transform="translate(1532.60,4014.43) rotate(-90) scale(0.9698,1)" font-size="52" fill="#000">1506</text>
<text transform="translate(1643.60,4031.39) rotate(-90) scale(0.9847,1)" font-size="52" fill="#000">1454</text>
<text transform="translate(1810.00,3980.80) rotate(-90) scale(1.0127,1)" font-size="52" fill="#000">1373</text>
</svg></body></html>
